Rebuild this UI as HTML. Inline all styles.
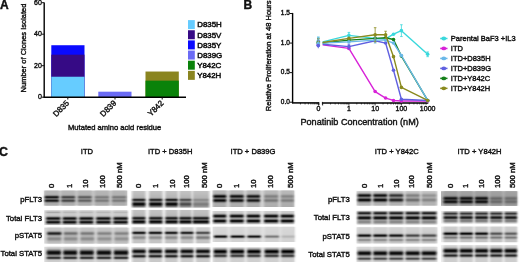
<!DOCTYPE html>
<html><head><meta charset="utf-8"><style>
html,body{margin:0;padding:0;background:#fff;}
body{width:520px;height:262px;overflow:hidden;}
svg{display:block;font-family:"Liberation Sans",sans-serif;will-change:transform;}
text{stroke:#111;stroke-width:0.4px;}
</style></head><body>
<svg width="520" height="262" viewBox="0 0 520 262" fill="#111">
<defs>
<filter id="bl1" x="-20%" y="-20%" width="140%" height="140%"><feGaussianBlur stdDeviation="0.6"/></filter>
<filter id="bl2" x="-20%" y="-20%" width="140%" height="140%"><feGaussianBlur stdDeviation="0.8 0.5"/></filter>
</defs>
<rect width="520" height="262" fill="#fff"/>
<defs><linearGradient id="p1" x1="0" y1="0" x2="0" y2="1"><stop offset="0.000" stop-color="#b6b6b6"/><stop offset="0.167" stop-color="#b4b4b4"/><stop offset="0.200" stop-color="#b4b4b4"/><stop offset="0.233" stop-color="#b2b2b2"/><stop offset="0.267" stop-color="#acacac"/><stop offset="0.300" stop-color="#9e9e9e"/><stop offset="0.333" stop-color="#818181"/><stop offset="0.367" stop-color="#575757"/><stop offset="0.400" stop-color="#2d2d2d"/><stop offset="0.433" stop-color="#161616"/><stop offset="0.467" stop-color="#202020"/><stop offset="0.500" stop-color="#424242"/><stop offset="0.533" stop-color="#636363"/><stop offset="0.567" stop-color="#6a6a6a"/><stop offset="0.600" stop-color="#535353"/><stop offset="0.633" stop-color="#2e2e2e"/><stop offset="0.667" stop-color="#191919"/><stop offset="0.700" stop-color="#232323"/><stop offset="0.733" stop-color="#464646"/><stop offset="0.767" stop-color="#707070"/><stop offset="0.800" stop-color="#919191"/><stop offset="0.833" stop-color="#a3a3a3"/><stop offset="0.867" stop-color="#aaaaaa"/><stop offset="0.900" stop-color="#acacac"/><stop offset="1.000" stop-color="#acacac"/></linearGradient><linearGradient id="p2" x1="0" y1="0" x2="0" y2="1"><stop offset="0.000" stop-color="#b6b6b6"/><stop offset="0.167" stop-color="#b4b4b4"/><stop offset="0.233" stop-color="#b2b2b2"/><stop offset="0.267" stop-color="#aeaeae"/><stop offset="0.300" stop-color="#a4a4a4"/><stop offset="0.333" stop-color="#909090"/><stop offset="0.367" stop-color="#727272"/><stop offset="0.400" stop-color="#545454"/><stop offset="0.433" stop-color="#444444"/><stop offset="0.467" stop-color="#4a4a4a"/><stop offset="0.500" stop-color="#626262"/><stop offset="0.533" stop-color="#797979"/><stop offset="0.567" stop-color="#7e7e7e"/><stop offset="0.600" stop-color="#6e6e6e"/><stop offset="0.633" stop-color="#555555"/><stop offset="0.667" stop-color="#464646"/><stop offset="0.700" stop-color="#4d4d4d"/><stop offset="0.733" stop-color="#666666"/><stop offset="0.767" stop-color="#838383"/><stop offset="0.800" stop-color="#9a9a9a"/><stop offset="0.833" stop-color="#a6a6a6"/><stop offset="0.867" stop-color="#ababab"/><stop offset="0.933" stop-color="#adadad"/><stop offset="1.000" stop-color="#acacac"/></linearGradient><linearGradient id="p3" x1="0" y1="0" x2="0" y2="1"><stop offset="0.000" stop-color="#b6b6b6"/><stop offset="0.167" stop-color="#b4b4b4"/><stop offset="0.233" stop-color="#b3b3b3"/><stop offset="0.267" stop-color="#afafaf"/><stop offset="0.300" stop-color="#a7a7a7"/><stop offset="0.333" stop-color="#989898"/><stop offset="0.367" stop-color="#818181"/><stop offset="0.400" stop-color="#696969"/><stop offset="0.433" stop-color="#5d5d5d"/><stop offset="0.467" stop-color="#626262"/><stop offset="0.500" stop-color="#747474"/><stop offset="0.533" stop-color="#858585"/><stop offset="0.567" stop-color="#898989"/><stop offset="0.600" stop-color="#7e7e7e"/><stop offset="0.633" stop-color="#6b6b6b"/><stop offset="0.667" stop-color="#616161"/><stop offset="0.700" stop-color="#666666"/><stop offset="0.733" stop-color="#787878"/><stop offset="0.767" stop-color="#8e8e8e"/><stop offset="0.800" stop-color="#9f9f9f"/><stop offset="0.833" stop-color="#a8a8a8"/><stop offset="0.867" stop-color="#acacac"/><stop offset="1.000" stop-color="#acacac"/></linearGradient><linearGradient id="p4" x1="0" y1="0" x2="0" y2="1"><stop offset="0.000" stop-color="#b6b6b6"/><stop offset="0.167" stop-color="#b4b4b4"/><stop offset="0.233" stop-color="#b3b3b3"/><stop offset="0.267" stop-color="#b1b1b1"/><stop offset="0.300" stop-color="#acacac"/><stop offset="0.333" stop-color="#a2a2a2"/><stop offset="0.367" stop-color="#939393"/><stop offset="0.400" stop-color="#858585"/><stop offset="0.433" stop-color="#7c7c7c"/><stop offset="0.467" stop-color="#7f7f7f"/><stop offset="0.500" stop-color="#8a8a8a"/><stop offset="0.533" stop-color="#949494"/><stop offset="0.567" stop-color="#969696"/><stop offset="0.600" stop-color="#8e8e8e"/><stop offset="0.633" stop-color="#828282"/><stop offset="0.667" stop-color="#7b7b7b"/><stop offset="0.700" stop-color="#7e7e7e"/><stop offset="0.733" stop-color="#8a8a8a"/><stop offset="0.767" stop-color="#999999"/><stop offset="0.800" stop-color="#a4a4a4"/><stop offset="0.833" stop-color="#aaaaaa"/><stop offset="0.867" stop-color="#acacac"/><stop offset="1.000" stop-color="#acacac"/></linearGradient><linearGradient id="p5" x1="0" y1="0" x2="0" y2="1"><stop offset="0.000" stop-color="#b6b6b6"/><stop offset="0.167" stop-color="#b4b4b4"/><stop offset="0.233" stop-color="#b3b3b3"/><stop offset="0.267" stop-color="#b1b1b1"/><stop offset="0.300" stop-color="#ababab"/><stop offset="0.333" stop-color="#a1a1a1"/><stop offset="0.367" stop-color="#919191"/><stop offset="0.400" stop-color="#828282"/><stop offset="0.433" stop-color="#797979"/><stop offset="0.467" stop-color="#7c7c7c"/><stop offset="0.500" stop-color="#888888"/><stop offset="0.533" stop-color="#939393"/><stop offset="0.567" stop-color="#969696"/><stop offset="0.600" stop-color="#8e8e8e"/><stop offset="0.633" stop-color="#828282"/><stop offset="0.667" stop-color="#7b7b7b"/><stop offset="0.700" stop-color="#7e7e7e"/><stop offset="0.733" stop-color="#8a8a8a"/><stop offset="0.767" stop-color="#999999"/><stop offset="0.800" stop-color="#a4a4a4"/><stop offset="0.833" stop-color="#aaaaaa"/><stop offset="0.867" stop-color="#acacac"/><stop offset="1.000" stop-color="#acacac"/></linearGradient><linearGradient id="p6" x1="0" y1="0" x2="0" y2="1"><stop offset="0.000" stop-color="#d0d0d0"/><stop offset="0.034" stop-color="#cecece"/><stop offset="0.068" stop-color="#c7c7c7"/><stop offset="0.102" stop-color="#b5b5b5"/><stop offset="0.136" stop-color="#a5a5a5"/><stop offset="0.170" stop-color="#acacac"/><stop offset="0.204" stop-color="#bfbfbf"/><stop offset="0.238" stop-color="#cacaca"/><stop offset="0.272" stop-color="#cccccc"/><stop offset="0.306" stop-color="#cbcbcb"/><stop offset="0.340" stop-color="#c8c8c8"/><stop offset="0.374" stop-color="#bfbfbf"/><stop offset="0.408" stop-color="#adadad"/><stop offset="0.442" stop-color="#8c8c8c"/><stop offset="0.476" stop-color="#5e5e5e"/><stop offset="0.510" stop-color="#2e2e2e"/><stop offset="0.544" stop-color="#111111"/><stop offset="0.578" stop-color="#141414"/><stop offset="0.612" stop-color="#343434"/><stop offset="0.646" stop-color="#5c5c5c"/><stop offset="0.680" stop-color="#6f6f6f"/><stop offset="0.714" stop-color="#606060"/><stop offset="0.748" stop-color="#393939"/><stop offset="0.782" stop-color="#151515"/><stop offset="0.816" stop-color="#0b0b0b"/><stop offset="0.850" stop-color="#222222"/><stop offset="0.884" stop-color="#4f4f4f"/><stop offset="0.918" stop-color="#7e7e7e"/><stop offset="0.952" stop-color="#a1a1a1"/><stop offset="0.986" stop-color="#b5b5b5"/></linearGradient><linearGradient id="p7" x1="0" y1="0" x2="0" y2="1"><stop offset="0.000" stop-color="#d0d0d0"/><stop offset="0.034" stop-color="#cfcfcf"/><stop offset="0.068" stop-color="#cacaca"/><stop offset="0.102" stop-color="#bfbfbf"/><stop offset="0.136" stop-color="#b6b6b6"/><stop offset="0.170" stop-color="#bababa"/><stop offset="0.204" stop-color="#c5c5c5"/><stop offset="0.238" stop-color="#cbcbcb"/><stop offset="0.306" stop-color="#cbcbcb"/><stop offset="0.340" stop-color="#c8c8c8"/><stop offset="0.374" stop-color="#bfbfbf"/><stop offset="0.408" stop-color="#adadad"/><stop offset="0.442" stop-color="#8c8c8c"/><stop offset="0.476" stop-color="#5e5e5e"/><stop offset="0.510" stop-color="#2e2e2e"/><stop offset="0.544" stop-color="#111111"/><stop offset="0.578" stop-color="#141414"/><stop offset="0.612" stop-color="#343434"/><stop offset="0.646" stop-color="#5c5c5c"/><stop offset="0.680" stop-color="#6f6f6f"/><stop offset="0.714" stop-color="#606060"/><stop offset="0.748" stop-color="#393939"/><stop offset="0.782" stop-color="#151515"/><stop offset="0.816" stop-color="#0b0b0b"/><stop offset="0.850" stop-color="#222222"/><stop offset="0.884" stop-color="#4f4f4f"/><stop offset="0.918" stop-color="#7e7e7e"/><stop offset="0.952" stop-color="#a1a1a1"/><stop offset="0.986" stop-color="#b5b5b5"/></linearGradient><linearGradient id="p8" x1="0" y1="0" x2="0" y2="1"><stop offset="0.000" stop-color="#d0d0d0"/><stop offset="0.034" stop-color="#cfcfcf"/><stop offset="0.068" stop-color="#cacaca"/><stop offset="0.102" stop-color="#bfbfbf"/><stop offset="0.136" stop-color="#b6b6b6"/><stop offset="0.170" stop-color="#bababa"/><stop offset="0.204" stop-color="#c5c5c5"/><stop offset="0.238" stop-color="#cbcbcb"/><stop offset="0.306" stop-color="#cbcbcb"/><stop offset="0.340" stop-color="#c8c8c8"/><stop offset="0.374" stop-color="#bfbfbf"/><stop offset="0.408" stop-color="#adadad"/><stop offset="0.442" stop-color="#8c8c8c"/><stop offset="0.476" stop-color="#5e5e5e"/><stop offset="0.510" stop-color="#2e2e2e"/><stop offset="0.544" stop-color="#111111"/><stop offset="0.578" stop-color="#141414"/><stop offset="0.612" stop-color="#343434"/><stop offset="0.646" stop-color="#5c5c5c"/><stop offset="0.680" stop-color="#6f6f6f"/><stop offset="0.714" stop-color="#606060"/><stop offset="0.748" stop-color="#393939"/><stop offset="0.782" stop-color="#151515"/><stop offset="0.816" stop-color="#0b0b0b"/><stop offset="0.850" stop-color="#222222"/><stop offset="0.884" stop-color="#4f4f4f"/><stop offset="0.918" stop-color="#7e7e7e"/><stop offset="0.952" stop-color="#a1a1a1"/><stop offset="0.986" stop-color="#b5b5b5"/></linearGradient><linearGradient id="p9" x1="0" y1="0" x2="0" y2="1"><stop offset="0.000" stop-color="#d0d0d0"/><stop offset="0.034" stop-color="#cfcfcf"/><stop offset="0.068" stop-color="#cacaca"/><stop offset="0.102" stop-color="#bfbfbf"/><stop offset="0.136" stop-color="#b6b6b6"/><stop offset="0.170" stop-color="#bababa"/><stop offset="0.204" stop-color="#c5c5c5"/><stop offset="0.238" stop-color="#cbcbcb"/><stop offset="0.306" stop-color="#cbcbcb"/><stop offset="0.340" stop-color="#c8c8c8"/><stop offset="0.374" stop-color="#bfbfbf"/><stop offset="0.408" stop-color="#adadad"/><stop offset="0.442" stop-color="#8c8c8c"/><stop offset="0.476" stop-color="#5e5e5e"/><stop offset="0.510" stop-color="#2e2e2e"/><stop offset="0.544" stop-color="#111111"/><stop offset="0.578" stop-color="#141414"/><stop offset="0.612" stop-color="#343434"/><stop offset="0.646" stop-color="#5c5c5c"/><stop offset="0.680" stop-color="#6f6f6f"/><stop offset="0.714" stop-color="#606060"/><stop offset="0.748" stop-color="#393939"/><stop offset="0.782" stop-color="#151515"/><stop offset="0.816" stop-color="#0b0b0b"/><stop offset="0.850" stop-color="#222222"/><stop offset="0.884" stop-color="#4f4f4f"/><stop offset="0.918" stop-color="#7e7e7e"/><stop offset="0.952" stop-color="#a1a1a1"/><stop offset="0.986" stop-color="#b5b5b5"/></linearGradient><linearGradient id="p10" x1="0" y1="0" x2="0" y2="1"><stop offset="0.000" stop-color="#d0d0d0"/><stop offset="0.034" stop-color="#cfcfcf"/><stop offset="0.068" stop-color="#cacaca"/><stop offset="0.102" stop-color="#bfbfbf"/><stop offset="0.136" stop-color="#b6b6b6"/><stop offset="0.170" stop-color="#bababa"/><stop offset="0.204" stop-color="#c5c5c5"/><stop offset="0.238" stop-color="#cbcbcb"/><stop offset="0.306" stop-color="#cbcbcb"/><stop offset="0.340" stop-color="#c8c8c8"/><stop offset="0.374" stop-color="#bfbfbf"/><stop offset="0.408" stop-color="#adadad"/><stop offset="0.442" stop-color="#8c8c8c"/><stop offset="0.476" stop-color="#5e5e5e"/><stop offset="0.510" stop-color="#2e2e2e"/><stop offset="0.544" stop-color="#111111"/><stop offset="0.578" stop-color="#141414"/><stop offset="0.612" stop-color="#343434"/><stop offset="0.646" stop-color="#5c5c5c"/><stop offset="0.680" stop-color="#6f6f6f"/><stop offset="0.714" stop-color="#606060"/><stop offset="0.748" stop-color="#393939"/><stop offset="0.782" stop-color="#151515"/><stop offset="0.816" stop-color="#0b0b0b"/><stop offset="0.850" stop-color="#222222"/><stop offset="0.884" stop-color="#4f4f4f"/><stop offset="0.918" stop-color="#7e7e7e"/><stop offset="0.952" stop-color="#a1a1a1"/><stop offset="0.986" stop-color="#b5b5b5"/></linearGradient><linearGradient id="p11" x1="0" y1="0" x2="0" y2="1"><stop offset="0.000" stop-color="#c8c8c8"/><stop offset="0.125" stop-color="#c6c6c6"/><stop offset="0.156" stop-color="#c3c3c3"/><stop offset="0.188" stop-color="#bdbdbd"/><stop offset="0.219" stop-color="#aeaeae"/><stop offset="0.250" stop-color="#959595"/><stop offset="0.281" stop-color="#717171"/><stop offset="0.312" stop-color="#4a4a4a"/><stop offset="0.344" stop-color="#2c2c2c"/><stop offset="0.375" stop-color="#242424"/><stop offset="0.406" stop-color="#353535"/><stop offset="0.438" stop-color="#585858"/><stop offset="0.469" stop-color="#7e7e7e"/><stop offset="0.500" stop-color="#9a9a9a"/><stop offset="0.531" stop-color="#a8a8a8"/><stop offset="0.562" stop-color="#aaaaaa"/><stop offset="0.594" stop-color="#a3a3a3"/><stop offset="0.625" stop-color="#989898"/><stop offset="0.656" stop-color="#8e8e8e"/><stop offset="0.688" stop-color="#898989"/><stop offset="0.719" stop-color="#898989"/><stop offset="0.750" stop-color="#909090"/><stop offset="0.781" stop-color="#9a9a9a"/><stop offset="0.812" stop-color="#a6a6a6"/><stop offset="0.844" stop-color="#b0b0b0"/><stop offset="0.875" stop-color="#b7b7b7"/><stop offset="0.906" stop-color="#bcbcbc"/><stop offset="0.938" stop-color="#bebebe"/><stop offset="1.000" stop-color="#c0c0c0"/></linearGradient><linearGradient id="p12" x1="0" y1="0" x2="0" y2="1"><stop offset="0.000" stop-color="#c8c8c8"/><stop offset="0.125" stop-color="#c6c6c6"/><stop offset="0.156" stop-color="#c5c5c5"/><stop offset="0.188" stop-color="#c1c1c1"/><stop offset="0.219" stop-color="#bababa"/><stop offset="0.250" stop-color="#adadad"/><stop offset="0.281" stop-color="#9a9a9a"/><stop offset="0.312" stop-color="#868686"/><stop offset="0.344" stop-color="#777777"/><stop offset="0.375" stop-color="#727272"/><stop offset="0.406" stop-color="#7b7b7b"/><stop offset="0.438" stop-color="#8d8d8d"/><stop offset="0.469" stop-color="#9f9f9f"/><stop offset="0.500" stop-color="#acacac"/><stop offset="0.531" stop-color="#b1b1b1"/><stop offset="0.562" stop-color="#aeaeae"/><stop offset="0.594" stop-color="#a6a6a6"/><stop offset="0.625" stop-color="#9b9b9b"/><stop offset="0.656" stop-color="#929292"/><stop offset="0.688" stop-color="#8d8d8d"/><stop offset="0.719" stop-color="#8d8d8d"/><stop offset="0.750" stop-color="#939393"/><stop offset="0.781" stop-color="#9d9d9d"/><stop offset="0.812" stop-color="#a7a7a7"/><stop offset="0.844" stop-color="#b1b1b1"/><stop offset="0.875" stop-color="#b8b8b8"/><stop offset="0.906" stop-color="#bcbcbc"/><stop offset="0.938" stop-color="#bebebe"/><stop offset="1.000" stop-color="#c0c0c0"/></linearGradient><linearGradient id="p13" x1="0" y1="0" x2="0" y2="1"><stop offset="0.000" stop-color="#c8c8c8"/><stop offset="0.156" stop-color="#c5c5c5"/><stop offset="0.188" stop-color="#c2c2c2"/><stop offset="0.219" stop-color="#bbbbbb"/><stop offset="0.250" stop-color="#afafaf"/><stop offset="0.281" stop-color="#9f9f9f"/><stop offset="0.312" stop-color="#8c8c8c"/><stop offset="0.344" stop-color="#7e7e7e"/><stop offset="0.375" stop-color="#7a7a7a"/><stop offset="0.406" stop-color="#828282"/><stop offset="0.438" stop-color="#929292"/><stop offset="0.469" stop-color="#a2a2a2"/><stop offset="0.500" stop-color="#aeaeae"/><stop offset="0.531" stop-color="#b2b2b2"/><stop offset="0.562" stop-color="#aeaeae"/><stop offset="0.594" stop-color="#a6a6a6"/><stop offset="0.625" stop-color="#9b9b9b"/><stop offset="0.656" stop-color="#929292"/><stop offset="0.688" stop-color="#8d8d8d"/><stop offset="0.719" stop-color="#8d8d8d"/><stop offset="0.750" stop-color="#939393"/><stop offset="0.781" stop-color="#9d9d9d"/><stop offset="0.812" stop-color="#a7a7a7"/><stop offset="0.844" stop-color="#b1b1b1"/><stop offset="0.875" stop-color="#b8b8b8"/><stop offset="0.906" stop-color="#bcbcbc"/><stop offset="0.938" stop-color="#bebebe"/><stop offset="1.000" stop-color="#c0c0c0"/></linearGradient><linearGradient id="p14" x1="0" y1="0" x2="0" y2="1"><stop offset="0.000" stop-color="#c8c8c8"/><stop offset="0.156" stop-color="#c5c5c5"/><stop offset="0.188" stop-color="#c2c2c2"/><stop offset="0.219" stop-color="#bdbdbd"/><stop offset="0.250" stop-color="#b2b2b2"/><stop offset="0.281" stop-color="#a4a4a4"/><stop offset="0.312" stop-color="#949494"/><stop offset="0.344" stop-color="#888888"/><stop offset="0.375" stop-color="#848484"/><stop offset="0.406" stop-color="#8b8b8b"/><stop offset="0.438" stop-color="#989898"/><stop offset="0.469" stop-color="#a7a7a7"/><stop offset="0.500" stop-color="#b1b1b1"/><stop offset="0.531" stop-color="#b4b4b4"/><stop offset="0.562" stop-color="#b1b1b1"/><stop offset="0.594" stop-color="#a9a9a9"/><stop offset="0.625" stop-color="#a0a0a0"/><stop offset="0.656" stop-color="#979797"/><stop offset="0.688" stop-color="#929292"/><stop offset="0.719" stop-color="#939393"/><stop offset="0.750" stop-color="#989898"/><stop offset="0.781" stop-color="#a1a1a1"/><stop offset="0.812" stop-color="#aaaaaa"/><stop offset="0.844" stop-color="#b3b3b3"/><stop offset="0.875" stop-color="#b9b9b9"/><stop offset="0.906" stop-color="#bdbdbd"/><stop offset="0.938" stop-color="#bfbfbf"/><stop offset="1.000" stop-color="#c0c0c0"/></linearGradient><linearGradient id="p15" x1="0" y1="0" x2="0" y2="1"><stop offset="0.000" stop-color="#c8c8c8"/><stop offset="0.156" stop-color="#c5c5c5"/><stop offset="0.188" stop-color="#c2c2c2"/><stop offset="0.219" stop-color="#bdbdbd"/><stop offset="0.250" stop-color="#b2b2b2"/><stop offset="0.281" stop-color="#a4a4a4"/><stop offset="0.312" stop-color="#949494"/><stop offset="0.344" stop-color="#888888"/><stop offset="0.375" stop-color="#848484"/><stop offset="0.406" stop-color="#8b8b8b"/><stop offset="0.438" stop-color="#989898"/><stop offset="0.469" stop-color="#a7a7a7"/><stop offset="0.500" stop-color="#b1b1b1"/><stop offset="0.531" stop-color="#b4b4b4"/><stop offset="0.562" stop-color="#b1b1b1"/><stop offset="0.594" stop-color="#a9a9a9"/><stop offset="0.625" stop-color="#a0a0a0"/><stop offset="0.656" stop-color="#979797"/><stop offset="0.688" stop-color="#929292"/><stop offset="0.719" stop-color="#939393"/><stop offset="0.750" stop-color="#989898"/><stop offset="0.781" stop-color="#a1a1a1"/><stop offset="0.812" stop-color="#aaaaaa"/><stop offset="0.844" stop-color="#b3b3b3"/><stop offset="0.875" stop-color="#b9b9b9"/><stop offset="0.906" stop-color="#bdbdbd"/><stop offset="0.938" stop-color="#bfbfbf"/><stop offset="1.000" stop-color="#c0c0c0"/></linearGradient><linearGradient id="p16" x1="0" y1="0" x2="0" y2="1"><stop offset="0.000" stop-color="#d4d4d4"/><stop offset="0.032" stop-color="#d2d2d2"/><stop offset="0.064" stop-color="#cdcdcd"/><stop offset="0.096" stop-color="#c6c6c6"/><stop offset="0.127" stop-color="#bababa"/><stop offset="0.159" stop-color="#a9a9a9"/><stop offset="0.191" stop-color="#919191"/><stop offset="0.223" stop-color="#747474"/><stop offset="0.255" stop-color="#545454"/><stop offset="0.287" stop-color="#343434"/><stop offset="0.318" stop-color="#1a1a1a"/><stop offset="0.350" stop-color="#090909"/><stop offset="0.382" stop-color="#040404"/><stop offset="0.414" stop-color="#0e0e0e"/><stop offset="0.446" stop-color="#232323"/><stop offset="0.478" stop-color="#404040"/><stop offset="0.510" stop-color="#606060"/><stop offset="0.541" stop-color="#7c7c7c"/><stop offset="0.573" stop-color="#8e8e8e"/><stop offset="0.605" stop-color="#8a8a8a"/><stop offset="0.637" stop-color="#6d6d6d"/><stop offset="0.669" stop-color="#434343"/><stop offset="0.701" stop-color="#292929"/><stop offset="0.732" stop-color="#373737"/><stop offset="0.764" stop-color="#646464"/><stop offset="0.796" stop-color="#959595"/><stop offset="0.828" stop-color="#b7b7b7"/><stop offset="0.860" stop-color="#c8c8c8"/><stop offset="0.892" stop-color="#cdcdcd"/><stop offset="0.987" stop-color="#cecece"/></linearGradient><linearGradient id="p17" x1="0" y1="0" x2="0" y2="1"><stop offset="0.000" stop-color="#d4d4d4"/><stop offset="0.032" stop-color="#d2d2d2"/><stop offset="0.064" stop-color="#cdcdcd"/><stop offset="0.096" stop-color="#c6c6c6"/><stop offset="0.127" stop-color="#bababa"/><stop offset="0.159" stop-color="#a9a9a9"/><stop offset="0.191" stop-color="#919191"/><stop offset="0.223" stop-color="#747474"/><stop offset="0.255" stop-color="#545454"/><stop offset="0.287" stop-color="#343434"/><stop offset="0.318" stop-color="#1a1a1a"/><stop offset="0.350" stop-color="#090909"/><stop offset="0.382" stop-color="#040404"/><stop offset="0.414" stop-color="#0e0e0e"/><stop offset="0.446" stop-color="#232323"/><stop offset="0.478" stop-color="#404040"/><stop offset="0.510" stop-color="#606060"/><stop offset="0.541" stop-color="#7c7c7c"/><stop offset="0.573" stop-color="#8e8e8e"/><stop offset="0.605" stop-color="#8a8a8a"/><stop offset="0.637" stop-color="#6d6d6d"/><stop offset="0.669" stop-color="#434343"/><stop offset="0.701" stop-color="#292929"/><stop offset="0.732" stop-color="#373737"/><stop offset="0.764" stop-color="#646464"/><stop offset="0.796" stop-color="#959595"/><stop offset="0.828" stop-color="#b7b7b7"/><stop offset="0.860" stop-color="#c8c8c8"/><stop offset="0.892" stop-color="#cdcdcd"/><stop offset="0.987" stop-color="#cecece"/></linearGradient><linearGradient id="p18" x1="0" y1="0" x2="0" y2="1"><stop offset="0.000" stop-color="#d4d4d4"/><stop offset="0.032" stop-color="#d2d2d2"/><stop offset="0.064" stop-color="#cdcdcd"/><stop offset="0.096" stop-color="#c6c6c6"/><stop offset="0.127" stop-color="#bababa"/><stop offset="0.159" stop-color="#a9a9a9"/><stop offset="0.191" stop-color="#919191"/><stop offset="0.223" stop-color="#747474"/><stop offset="0.255" stop-color="#545454"/><stop offset="0.287" stop-color="#343434"/><stop offset="0.318" stop-color="#1a1a1a"/><stop offset="0.350" stop-color="#090909"/><stop offset="0.382" stop-color="#040404"/><stop offset="0.414" stop-color="#0e0e0e"/><stop offset="0.446" stop-color="#232323"/><stop offset="0.478" stop-color="#404040"/><stop offset="0.510" stop-color="#606060"/><stop offset="0.541" stop-color="#7c7c7c"/><stop offset="0.573" stop-color="#8e8e8e"/><stop offset="0.605" stop-color="#8a8a8a"/><stop offset="0.637" stop-color="#6d6d6d"/><stop offset="0.669" stop-color="#434343"/><stop offset="0.701" stop-color="#292929"/><stop offset="0.732" stop-color="#373737"/><stop offset="0.764" stop-color="#646464"/><stop offset="0.796" stop-color="#959595"/><stop offset="0.828" stop-color="#b7b7b7"/><stop offset="0.860" stop-color="#c8c8c8"/><stop offset="0.892" stop-color="#cdcdcd"/><stop offset="0.987" stop-color="#cecece"/></linearGradient><linearGradient id="p19" x1="0" y1="0" x2="0" y2="1"><stop offset="0.000" stop-color="#d4d4d4"/><stop offset="0.032" stop-color="#d2d2d2"/><stop offset="0.064" stop-color="#cdcdcd"/><stop offset="0.096" stop-color="#c6c6c6"/><stop offset="0.127" stop-color="#bababa"/><stop offset="0.159" stop-color="#a9a9a9"/><stop offset="0.191" stop-color="#919191"/><stop offset="0.223" stop-color="#747474"/><stop offset="0.255" stop-color="#545454"/><stop offset="0.287" stop-color="#343434"/><stop offset="0.318" stop-color="#1a1a1a"/><stop offset="0.350" stop-color="#090909"/><stop offset="0.382" stop-color="#040404"/><stop offset="0.414" stop-color="#0e0e0e"/><stop offset="0.446" stop-color="#232323"/><stop offset="0.478" stop-color="#404040"/><stop offset="0.510" stop-color="#606060"/><stop offset="0.541" stop-color="#7c7c7c"/><stop offset="0.573" stop-color="#8e8e8e"/><stop offset="0.605" stop-color="#8a8a8a"/><stop offset="0.637" stop-color="#6d6d6d"/><stop offset="0.669" stop-color="#434343"/><stop offset="0.701" stop-color="#292929"/><stop offset="0.732" stop-color="#373737"/><stop offset="0.764" stop-color="#646464"/><stop offset="0.796" stop-color="#959595"/><stop offset="0.828" stop-color="#b7b7b7"/><stop offset="0.860" stop-color="#c8c8c8"/><stop offset="0.892" stop-color="#cdcdcd"/><stop offset="0.987" stop-color="#cecece"/></linearGradient><linearGradient id="p20" x1="0" y1="0" x2="0" y2="1"><stop offset="0.000" stop-color="#d4d4d4"/><stop offset="0.032" stop-color="#d2d2d2"/><stop offset="0.064" stop-color="#cdcdcd"/><stop offset="0.096" stop-color="#c6c6c6"/><stop offset="0.127" stop-color="#bababa"/><stop offset="0.159" stop-color="#a9a9a9"/><stop offset="0.191" stop-color="#919191"/><stop offset="0.223" stop-color="#747474"/><stop offset="0.255" stop-color="#545454"/><stop offset="0.287" stop-color="#343434"/><stop offset="0.318" stop-color="#1a1a1a"/><stop offset="0.350" stop-color="#090909"/><stop offset="0.382" stop-color="#040404"/><stop offset="0.414" stop-color="#0e0e0e"/><stop offset="0.446" stop-color="#232323"/><stop offset="0.478" stop-color="#404040"/><stop offset="0.510" stop-color="#606060"/><stop offset="0.541" stop-color="#7c7c7c"/><stop offset="0.573" stop-color="#8e8e8e"/><stop offset="0.605" stop-color="#8a8a8a"/><stop offset="0.637" stop-color="#6d6d6d"/><stop offset="0.669" stop-color="#434343"/><stop offset="0.701" stop-color="#292929"/><stop offset="0.732" stop-color="#373737"/><stop offset="0.764" stop-color="#646464"/><stop offset="0.796" stop-color="#959595"/><stop offset="0.828" stop-color="#b7b7b7"/><stop offset="0.860" stop-color="#c8c8c8"/><stop offset="0.892" stop-color="#cdcdcd"/><stop offset="0.987" stop-color="#cecece"/></linearGradient><linearGradient id="p21" x1="0" y1="0" x2="0" y2="1"><stop offset="0.000" stop-color="#c3c3c3"/><stop offset="0.060" stop-color="#c1c1c1"/><stop offset="0.120" stop-color="#bfbfbf"/><stop offset="0.181" stop-color="#bdbdbd"/><stop offset="0.241" stop-color="#bbbbbb"/><stop offset="0.301" stop-color="#b8b8b8"/><stop offset="0.331" stop-color="#b7b7b7"/><stop offset="0.361" stop-color="#b5b5b5"/><stop offset="0.392" stop-color="#afafaf"/><stop offset="0.422" stop-color="#a0a0a0"/><stop offset="0.452" stop-color="#818181"/><stop offset="0.482" stop-color="#565656"/><stop offset="0.512" stop-color="#2f2f2f"/><stop offset="0.542" stop-color="#232323"/><stop offset="0.572" stop-color="#393939"/><stop offset="0.602" stop-color="#5c5c5c"/><stop offset="0.633" stop-color="#717171"/><stop offset="0.663" stop-color="#6c6c6c"/><stop offset="0.693" stop-color="#545454"/><stop offset="0.723" stop-color="#353535"/><stop offset="0.753" stop-color="#191919"/><stop offset="0.783" stop-color="#0a0a0a"/><stop offset="0.813" stop-color="#0b0b0b"/><stop offset="0.843" stop-color="#1d1d1d"/><stop offset="0.873" stop-color="#3a3a3a"/><stop offset="0.904" stop-color="#595959"/><stop offset="0.934" stop-color="#737373"/><stop offset="0.964" stop-color="#878787"/><stop offset="0.994" stop-color="#939393"/></linearGradient><linearGradient id="p22" x1="0" y1="0" x2="0" y2="1"><stop offset="0.000" stop-color="#c3c3c3"/><stop offset="0.060" stop-color="#c1c1c1"/><stop offset="0.120" stop-color="#bfbfbf"/><stop offset="0.181" stop-color="#bdbdbd"/><stop offset="0.241" stop-color="#bbbbbb"/><stop offset="0.301" stop-color="#b8b8b8"/><stop offset="0.331" stop-color="#b7b7b7"/><stop offset="0.361" stop-color="#b5b5b5"/><stop offset="0.392" stop-color="#afafaf"/><stop offset="0.422" stop-color="#a0a0a0"/><stop offset="0.452" stop-color="#818181"/><stop offset="0.482" stop-color="#565656"/><stop offset="0.512" stop-color="#2f2f2f"/><stop offset="0.542" stop-color="#232323"/><stop offset="0.572" stop-color="#393939"/><stop offset="0.602" stop-color="#5c5c5c"/><stop offset="0.633" stop-color="#717171"/><stop offset="0.663" stop-color="#6c6c6c"/><stop offset="0.693" stop-color="#545454"/><stop offset="0.723" stop-color="#353535"/><stop offset="0.753" stop-color="#191919"/><stop offset="0.783" stop-color="#0a0a0a"/><stop offset="0.813" stop-color="#0b0b0b"/><stop offset="0.843" stop-color="#1d1d1d"/><stop offset="0.873" stop-color="#3a3a3a"/><stop offset="0.904" stop-color="#595959"/><stop offset="0.934" stop-color="#737373"/><stop offset="0.964" stop-color="#878787"/><stop offset="0.994" stop-color="#939393"/></linearGradient><linearGradient id="p23" x1="0" y1="0" x2="0" y2="1"><stop offset="0.000" stop-color="#c3c3c3"/><stop offset="0.060" stop-color="#c1c1c1"/><stop offset="0.120" stop-color="#bfbfbf"/><stop offset="0.181" stop-color="#bdbdbd"/><stop offset="0.241" stop-color="#bbbbbb"/><stop offset="0.301" stop-color="#b8b8b8"/><stop offset="0.331" stop-color="#b7b7b7"/><stop offset="0.361" stop-color="#b5b5b5"/><stop offset="0.392" stop-color="#aeaeae"/><stop offset="0.422" stop-color="#9e9e9e"/><stop offset="0.452" stop-color="#7e7e7e"/><stop offset="0.482" stop-color="#505050"/><stop offset="0.512" stop-color="#272727"/><stop offset="0.542" stop-color="#1b1b1b"/><stop offset="0.572" stop-color="#323232"/><stop offset="0.602" stop-color="#585858"/><stop offset="0.633" stop-color="#6f6f6f"/><stop offset="0.663" stop-color="#6c6c6c"/><stop offset="0.693" stop-color="#545454"/><stop offset="0.723" stop-color="#353535"/><stop offset="0.753" stop-color="#191919"/><stop offset="0.783" stop-color="#0a0a0a"/><stop offset="0.813" stop-color="#0b0b0b"/><stop offset="0.843" stop-color="#1d1d1d"/><stop offset="0.873" stop-color="#3a3a3a"/><stop offset="0.904" stop-color="#595959"/><stop offset="0.934" stop-color="#737373"/><stop offset="0.964" stop-color="#878787"/><stop offset="0.994" stop-color="#939393"/></linearGradient><linearGradient id="p24" x1="0" y1="0" x2="0" y2="1"><stop offset="0.000" stop-color="#c3c3c3"/><stop offset="0.060" stop-color="#c1c1c1"/><stop offset="0.120" stop-color="#bfbfbf"/><stop offset="0.181" stop-color="#bdbdbd"/><stop offset="0.241" stop-color="#bbbbbb"/><stop offset="0.301" stop-color="#b8b8b8"/><stop offset="0.331" stop-color="#b7b7b7"/><stop offset="0.361" stop-color="#b5b5b5"/><stop offset="0.392" stop-color="#b1b1b1"/><stop offset="0.422" stop-color="#a6a6a6"/><stop offset="0.452" stop-color="#919191"/><stop offset="0.482" stop-color="#737373"/><stop offset="0.512" stop-color="#575757"/><stop offset="0.542" stop-color="#4f4f4f"/><stop offset="0.572" stop-color="#5d5d5d"/><stop offset="0.602" stop-color="#757575"/><stop offset="0.633" stop-color="#858585"/><stop offset="0.663" stop-color="#858585"/><stop offset="0.693" stop-color="#787878"/><stop offset="0.723" stop-color="#666666"/><stop offset="0.753" stop-color="#565656"/><stop offset="0.783" stop-color="#4c4c4c"/><stop offset="0.813" stop-color="#4d4d4d"/><stop offset="0.843" stop-color="#575757"/><stop offset="0.873" stop-color="#676767"/><stop offset="0.904" stop-color="#787878"/><stop offset="0.934" stop-color="#878787"/><stop offset="0.964" stop-color="#929292"/><stop offset="0.994" stop-color="#999999"/></linearGradient><linearGradient id="p25" x1="0" y1="0" x2="0" y2="1"><stop offset="0.000" stop-color="#c3c3c3"/><stop offset="0.060" stop-color="#c1c1c1"/><stop offset="0.120" stop-color="#bfbfbf"/><stop offset="0.181" stop-color="#bdbdbd"/><stop offset="0.241" stop-color="#bbbbbb"/><stop offset="0.301" stop-color="#b8b8b8"/><stop offset="0.361" stop-color="#b6b6b6"/><stop offset="0.392" stop-color="#b4b4b4"/><stop offset="0.422" stop-color="#afafaf"/><stop offset="0.452" stop-color="#a7a7a7"/><stop offset="0.482" stop-color="#9b9b9b"/><stop offset="0.512" stop-color="#909090"/><stop offset="0.542" stop-color="#8c8c8c"/><stop offset="0.572" stop-color="#909090"/><stop offset="0.602" stop-color="#989898"/><stop offset="0.633" stop-color="#9c9c9c"/><stop offset="0.663" stop-color="#9a9a9a"/><stop offset="0.693" stop-color="#949494"/><stop offset="0.723" stop-color="#8b8b8b"/><stop offset="0.753" stop-color="#838383"/><stop offset="0.783" stop-color="#7e7e7e"/><stop offset="0.813" stop-color="#7e7e7e"/><stop offset="0.843" stop-color="#828282"/><stop offset="0.873" stop-color="#888888"/><stop offset="0.904" stop-color="#909090"/><stop offset="0.934" stop-color="#969696"/><stop offset="0.964" stop-color="#9a9a9a"/><stop offset="0.994" stop-color="#9d9d9d"/></linearGradient><linearGradient id="p26" x1="0" y1="0" x2="0" y2="1"><stop offset="0.000" stop-color="#c3c3c3"/><stop offset="0.069" stop-color="#c1c1c1"/><stop offset="0.139" stop-color="#c0c0c0"/><stop offset="0.208" stop-color="#bebebe"/><stop offset="0.278" stop-color="#bcbcbc"/><stop offset="0.312" stop-color="#bbbbbb"/><stop offset="0.347" stop-color="#b9b9b9"/><stop offset="0.382" stop-color="#b4b4b4"/><stop offset="0.417" stop-color="#a7a7a7"/><stop offset="0.451" stop-color="#8d8d8d"/><stop offset="0.486" stop-color="#666666"/><stop offset="0.521" stop-color="#3a3a3a"/><stop offset="0.556" stop-color="#1e1e1e"/><stop offset="0.590" stop-color="#202020"/><stop offset="0.625" stop-color="#3d3d3d"/><stop offset="0.660" stop-color="#5a5a5a"/><stop offset="0.694" stop-color="#606060"/><stop offset="0.729" stop-color="#4b4b4b"/><stop offset="0.764" stop-color="#282828"/><stop offset="0.799" stop-color="#0e0e0e"/><stop offset="0.833" stop-color="#0b0b0b"/><stop offset="0.868" stop-color="#212121"/><stop offset="0.903" stop-color="#474747"/><stop offset="0.937" stop-color="#6d6d6d"/><stop offset="0.972" stop-color="#8a8a8a"/><stop offset="1.007" stop-color="#9b9b9b"/></linearGradient><linearGradient id="p27" x1="0" y1="0" x2="0" y2="1"><stop offset="0.000" stop-color="#c3c3c3"/><stop offset="0.069" stop-color="#c1c1c1"/><stop offset="0.139" stop-color="#c0c0c0"/><stop offset="0.208" stop-color="#bebebe"/><stop offset="0.278" stop-color="#bcbcbc"/><stop offset="0.312" stop-color="#bbbbbb"/><stop offset="0.347" stop-color="#b9b9b9"/><stop offset="0.382" stop-color="#b4b4b4"/><stop offset="0.417" stop-color="#a7a7a7"/><stop offset="0.451" stop-color="#8d8d8d"/><stop offset="0.486" stop-color="#666666"/><stop offset="0.521" stop-color="#3a3a3a"/><stop offset="0.556" stop-color="#1e1e1e"/><stop offset="0.590" stop-color="#202020"/><stop offset="0.625" stop-color="#3d3d3d"/><stop offset="0.660" stop-color="#5a5a5a"/><stop offset="0.694" stop-color="#606060"/><stop offset="0.729" stop-color="#4b4b4b"/><stop offset="0.764" stop-color="#282828"/><stop offset="0.799" stop-color="#0e0e0e"/><stop offset="0.833" stop-color="#0b0b0b"/><stop offset="0.868" stop-color="#212121"/><stop offset="0.903" stop-color="#474747"/><stop offset="0.937" stop-color="#6d6d6d"/><stop offset="0.972" stop-color="#8a8a8a"/><stop offset="1.007" stop-color="#9b9b9b"/></linearGradient><linearGradient id="p28" x1="0" y1="0" x2="0" y2="1"><stop offset="0.000" stop-color="#c3c3c3"/><stop offset="0.069" stop-color="#c1c1c1"/><stop offset="0.139" stop-color="#c0c0c0"/><stop offset="0.208" stop-color="#bebebe"/><stop offset="0.278" stop-color="#bcbcbc"/><stop offset="0.312" stop-color="#bbbbbb"/><stop offset="0.347" stop-color="#b9b9b9"/><stop offset="0.382" stop-color="#b4b4b4"/><stop offset="0.417" stop-color="#a7a7a7"/><stop offset="0.451" stop-color="#8d8d8d"/><stop offset="0.486" stop-color="#666666"/><stop offset="0.521" stop-color="#3a3a3a"/><stop offset="0.556" stop-color="#1e1e1e"/><stop offset="0.590" stop-color="#202020"/><stop offset="0.625" stop-color="#3d3d3d"/><stop offset="0.660" stop-color="#5a5a5a"/><stop offset="0.694" stop-color="#606060"/><stop offset="0.729" stop-color="#4b4b4b"/><stop offset="0.764" stop-color="#282828"/><stop offset="0.799" stop-color="#0e0e0e"/><stop offset="0.833" stop-color="#0b0b0b"/><stop offset="0.868" stop-color="#212121"/><stop offset="0.903" stop-color="#474747"/><stop offset="0.937" stop-color="#6d6d6d"/><stop offset="0.972" stop-color="#8a8a8a"/><stop offset="1.007" stop-color="#9b9b9b"/></linearGradient><linearGradient id="p29" x1="0" y1="0" x2="0" y2="1"><stop offset="0.000" stop-color="#c3c3c3"/><stop offset="0.069" stop-color="#c1c1c1"/><stop offset="0.139" stop-color="#c0c0c0"/><stop offset="0.208" stop-color="#bebebe"/><stop offset="0.278" stop-color="#bcbcbc"/><stop offset="0.312" stop-color="#bbbbbb"/><stop offset="0.347" stop-color="#b9b9b9"/><stop offset="0.382" stop-color="#b4b4b4"/><stop offset="0.417" stop-color="#a7a7a7"/><stop offset="0.451" stop-color="#8d8d8d"/><stop offset="0.486" stop-color="#666666"/><stop offset="0.521" stop-color="#3a3a3a"/><stop offset="0.556" stop-color="#1e1e1e"/><stop offset="0.590" stop-color="#202020"/><stop offset="0.625" stop-color="#3d3d3d"/><stop offset="0.660" stop-color="#5a5a5a"/><stop offset="0.694" stop-color="#606060"/><stop offset="0.729" stop-color="#4b4b4b"/><stop offset="0.764" stop-color="#282828"/><stop offset="0.799" stop-color="#0e0e0e"/><stop offset="0.833" stop-color="#0b0b0b"/><stop offset="0.868" stop-color="#212121"/><stop offset="0.903" stop-color="#474747"/><stop offset="0.937" stop-color="#6d6d6d"/><stop offset="0.972" stop-color="#8a8a8a"/><stop offset="1.007" stop-color="#9b9b9b"/></linearGradient><linearGradient id="p30" x1="0" y1="0" x2="0" y2="1"><stop offset="0.000" stop-color="#c3c3c3"/><stop offset="0.069" stop-color="#c1c1c1"/><stop offset="0.139" stop-color="#c0c0c0"/><stop offset="0.208" stop-color="#bebebe"/><stop offset="0.278" stop-color="#bcbcbc"/><stop offset="0.312" stop-color="#bbbbbb"/><stop offset="0.347" stop-color="#b9b9b9"/><stop offset="0.382" stop-color="#b4b4b4"/><stop offset="0.417" stop-color="#a7a7a7"/><stop offset="0.451" stop-color="#8d8d8d"/><stop offset="0.486" stop-color="#666666"/><stop offset="0.521" stop-color="#3a3a3a"/><stop offset="0.556" stop-color="#1e1e1e"/><stop offset="0.590" stop-color="#202020"/><stop offset="0.625" stop-color="#3d3d3d"/><stop offset="0.660" stop-color="#5a5a5a"/><stop offset="0.694" stop-color="#606060"/><stop offset="0.729" stop-color="#4b4b4b"/><stop offset="0.764" stop-color="#282828"/><stop offset="0.799" stop-color="#0e0e0e"/><stop offset="0.833" stop-color="#0b0b0b"/><stop offset="0.868" stop-color="#212121"/><stop offset="0.903" stop-color="#474747"/><stop offset="0.937" stop-color="#6d6d6d"/><stop offset="0.972" stop-color="#8a8a8a"/><stop offset="1.007" stop-color="#9b9b9b"/></linearGradient><linearGradient id="p31" x1="0" y1="0" x2="0" y2="1"><stop offset="0.000" stop-color="#d0d0d0"/><stop offset="0.125" stop-color="#cecece"/><stop offset="0.156" stop-color="#cdcdcd"/><stop offset="0.188" stop-color="#c9c9c9"/><stop offset="0.219" stop-color="#bcbcbc"/><stop offset="0.250" stop-color="#9d9d9d"/><stop offset="0.281" stop-color="#6a6a6a"/><stop offset="0.312" stop-color="#313131"/><stop offset="0.344" stop-color="#111111"/><stop offset="0.375" stop-color="#202020"/><stop offset="0.406" stop-color="#525252"/><stop offset="0.438" stop-color="#898989"/><stop offset="0.469" stop-color="#acacac"/><stop offset="0.500" stop-color="#b8b8b8"/><stop offset="0.531" stop-color="#b3b3b3"/><stop offset="0.562" stop-color="#a6a6a6"/><stop offset="0.594" stop-color="#989898"/><stop offset="0.625" stop-color="#8e8e8e"/><stop offset="0.656" stop-color="#8d8d8d"/><stop offset="0.688" stop-color="#959595"/><stop offset="0.719" stop-color="#a2a2a2"/><stop offset="0.750" stop-color="#b0b0b0"/><stop offset="0.781" stop-color="#bbbbbb"/><stop offset="0.812" stop-color="#c1c1c1"/><stop offset="0.844" stop-color="#c4c4c4"/><stop offset="1.000" stop-color="#c4c4c4"/></linearGradient><linearGradient id="p32" x1="0" y1="0" x2="0" y2="1"><stop offset="0.000" stop-color="#d0d0d0"/><stop offset="0.125" stop-color="#cecece"/><stop offset="0.156" stop-color="#cdcdcd"/><stop offset="0.188" stop-color="#c9c9c9"/><stop offset="0.219" stop-color="#bcbcbc"/><stop offset="0.250" stop-color="#9d9d9d"/><stop offset="0.281" stop-color="#6a6a6a"/><stop offset="0.312" stop-color="#313131"/><stop offset="0.344" stop-color="#111111"/><stop offset="0.375" stop-color="#202020"/><stop offset="0.406" stop-color="#525252"/><stop offset="0.438" stop-color="#898989"/><stop offset="0.469" stop-color="#acacac"/><stop offset="0.500" stop-color="#b8b8b8"/><stop offset="0.531" stop-color="#b3b3b3"/><stop offset="0.562" stop-color="#a6a6a6"/><stop offset="0.594" stop-color="#989898"/><stop offset="0.625" stop-color="#8e8e8e"/><stop offset="0.656" stop-color="#8d8d8d"/><stop offset="0.688" stop-color="#959595"/><stop offset="0.719" stop-color="#a2a2a2"/><stop offset="0.750" stop-color="#b0b0b0"/><stop offset="0.781" stop-color="#bbbbbb"/><stop offset="0.812" stop-color="#c1c1c1"/><stop offset="0.844" stop-color="#c4c4c4"/><stop offset="1.000" stop-color="#c4c4c4"/></linearGradient><linearGradient id="p33" x1="0" y1="0" x2="0" y2="1"><stop offset="0.000" stop-color="#d0d0d0"/><stop offset="0.125" stop-color="#cecece"/><stop offset="0.156" stop-color="#cdcdcd"/><stop offset="0.188" stop-color="#c9c9c9"/><stop offset="0.219" stop-color="#bcbcbc"/><stop offset="0.250" stop-color="#9e9e9e"/><stop offset="0.281" stop-color="#6d6d6d"/><stop offset="0.312" stop-color="#353535"/><stop offset="0.344" stop-color="#151515"/><stop offset="0.375" stop-color="#232323"/><stop offset="0.406" stop-color="#555555"/><stop offset="0.438" stop-color="#8a8a8a"/><stop offset="0.469" stop-color="#acacac"/><stop offset="0.500" stop-color="#b8b8b8"/><stop offset="0.531" stop-color="#b3b3b3"/><stop offset="0.562" stop-color="#a6a6a6"/><stop offset="0.594" stop-color="#989898"/><stop offset="0.625" stop-color="#8e8e8e"/><stop offset="0.656" stop-color="#8d8d8d"/><stop offset="0.688" stop-color="#959595"/><stop offset="0.719" stop-color="#a2a2a2"/><stop offset="0.750" stop-color="#b0b0b0"/><stop offset="0.781" stop-color="#bbbbbb"/><stop offset="0.812" stop-color="#c1c1c1"/><stop offset="0.844" stop-color="#c4c4c4"/><stop offset="1.000" stop-color="#c4c4c4"/></linearGradient><linearGradient id="p34" x1="0" y1="0" x2="0" y2="1"><stop offset="0.000" stop-color="#d0d0d0"/><stop offset="0.125" stop-color="#cecece"/><stop offset="0.156" stop-color="#cdcdcd"/><stop offset="0.188" stop-color="#c9c9c9"/><stop offset="0.219" stop-color="#bcbcbc"/><stop offset="0.250" stop-color="#9f9f9f"/><stop offset="0.281" stop-color="#6f6f6f"/><stop offset="0.312" stop-color="#383838"/><stop offset="0.344" stop-color="#191919"/><stop offset="0.375" stop-color="#272727"/><stop offset="0.406" stop-color="#575757"/><stop offset="0.438" stop-color="#8b8b8b"/><stop offset="0.469" stop-color="#adadad"/><stop offset="0.500" stop-color="#b8b8b8"/><stop offset="0.531" stop-color="#b3b3b3"/><stop offset="0.562" stop-color="#a6a6a6"/><stop offset="0.594" stop-color="#989898"/><stop offset="0.625" stop-color="#8e8e8e"/><stop offset="0.656" stop-color="#8d8d8d"/><stop offset="0.688" stop-color="#959595"/><stop offset="0.719" stop-color="#a2a2a2"/><stop offset="0.750" stop-color="#b0b0b0"/><stop offset="0.781" stop-color="#bbbbbb"/><stop offset="0.812" stop-color="#c1c1c1"/><stop offset="0.844" stop-color="#c4c4c4"/><stop offset="1.000" stop-color="#c4c4c4"/></linearGradient><linearGradient id="p35" x1="0" y1="0" x2="0" y2="1"><stop offset="0.000" stop-color="#d0d0d0"/><stop offset="0.125" stop-color="#cecece"/><stop offset="0.156" stop-color="#cdcdcd"/><stop offset="0.188" stop-color="#cacaca"/><stop offset="0.219" stop-color="#c1c1c1"/><stop offset="0.250" stop-color="#ababab"/><stop offset="0.281" stop-color="#878787"/><stop offset="0.312" stop-color="#5f5f5f"/><stop offset="0.344" stop-color="#484848"/><stop offset="0.375" stop-color="#525252"/><stop offset="0.406" stop-color="#757575"/><stop offset="0.438" stop-color="#9b9b9b"/><stop offset="0.469" stop-color="#b2b2b2"/><stop offset="0.500" stop-color="#b7b7b7"/><stop offset="0.531" stop-color="#aeaeae"/><stop offset="0.562" stop-color="#9d9d9d"/><stop offset="0.594" stop-color="#8b8b8b"/><stop offset="0.625" stop-color="#7f7f7f"/><stop offset="0.656" stop-color="#7d7d7d"/><stop offset="0.688" stop-color="#878787"/><stop offset="0.719" stop-color="#989898"/><stop offset="0.750" stop-color="#aaaaaa"/><stop offset="0.781" stop-color="#b7b7b7"/><stop offset="0.812" stop-color="#c0c0c0"/><stop offset="0.844" stop-color="#c3c3c3"/><stop offset="0.906" stop-color="#c5c5c5"/><stop offset="1.000" stop-color="#c4c4c4"/></linearGradient><linearGradient id="p36" x1="0" y1="0" x2="0" y2="1"><stop offset="0.000" stop-color="#cecece"/><stop offset="0.033" stop-color="#c8c8c8"/><stop offset="0.065" stop-color="#bdbdbd"/><stop offset="0.098" stop-color="#aaaaaa"/><stop offset="0.131" stop-color="#8d8d8d"/><stop offset="0.163" stop-color="#676767"/><stop offset="0.196" stop-color="#3e3e3e"/><stop offset="0.229" stop-color="#1b1b1b"/><stop offset="0.261" stop-color="#080808"/><stop offset="0.294" stop-color="#0a0a0a"/><stop offset="0.327" stop-color="#212121"/><stop offset="0.359" stop-color="#454545"/><stop offset="0.392" stop-color="#6c6c6c"/><stop offset="0.425" stop-color="#8a8a8a"/><stop offset="0.458" stop-color="#939393"/><stop offset="0.490" stop-color="#828282"/><stop offset="0.523" stop-color="#5a5a5a"/><stop offset="0.556" stop-color="#303030"/><stop offset="0.588" stop-color="#1e1e1e"/><stop offset="0.621" stop-color="#313131"/><stop offset="0.654" stop-color="#5d5d5d"/><stop offset="0.686" stop-color="#8d8d8d"/><stop offset="0.719" stop-color="#aeaeae"/><stop offset="0.752" stop-color="#c0c0c0"/><stop offset="0.784" stop-color="#c7c7c7"/><stop offset="0.817" stop-color="#c9c9c9"/><stop offset="1.013" stop-color="#c8c8c8"/></linearGradient><linearGradient id="p37" x1="0" y1="0" x2="0" y2="1"><stop offset="0.000" stop-color="#cecece"/><stop offset="0.033" stop-color="#c8c8c8"/><stop offset="0.065" stop-color="#bdbdbd"/><stop offset="0.098" stop-color="#aaaaaa"/><stop offset="0.131" stop-color="#8d8d8d"/><stop offset="0.163" stop-color="#676767"/><stop offset="0.196" stop-color="#3e3e3e"/><stop offset="0.229" stop-color="#1b1b1b"/><stop offset="0.261" stop-color="#080808"/><stop offset="0.294" stop-color="#0a0a0a"/><stop offset="0.327" stop-color="#212121"/><stop offset="0.359" stop-color="#454545"/><stop offset="0.392" stop-color="#6c6c6c"/><stop offset="0.425" stop-color="#8a8a8a"/><stop offset="0.458" stop-color="#939393"/><stop offset="0.490" stop-color="#828282"/><stop offset="0.523" stop-color="#5a5a5a"/><stop offset="0.556" stop-color="#303030"/><stop offset="0.588" stop-color="#1e1e1e"/><stop offset="0.621" stop-color="#313131"/><stop offset="0.654" stop-color="#5d5d5d"/><stop offset="0.686" stop-color="#8d8d8d"/><stop offset="0.719" stop-color="#aeaeae"/><stop offset="0.752" stop-color="#c0c0c0"/><stop offset="0.784" stop-color="#c7c7c7"/><stop offset="0.817" stop-color="#c9c9c9"/><stop offset="1.013" stop-color="#c8c8c8"/></linearGradient><linearGradient id="p38" x1="0" y1="0" x2="0" y2="1"><stop offset="0.000" stop-color="#cecece"/><stop offset="0.033" stop-color="#c8c8c8"/><stop offset="0.065" stop-color="#bdbdbd"/><stop offset="0.098" stop-color="#aaaaaa"/><stop offset="0.131" stop-color="#8d8d8d"/><stop offset="0.163" stop-color="#676767"/><stop offset="0.196" stop-color="#3e3e3e"/><stop offset="0.229" stop-color="#1b1b1b"/><stop offset="0.261" stop-color="#080808"/><stop offset="0.294" stop-color="#0a0a0a"/><stop offset="0.327" stop-color="#212121"/><stop offset="0.359" stop-color="#454545"/><stop offset="0.392" stop-color="#6c6c6c"/><stop offset="0.425" stop-color="#8a8a8a"/><stop offset="0.458" stop-color="#939393"/><stop offset="0.490" stop-color="#828282"/><stop offset="0.523" stop-color="#5a5a5a"/><stop offset="0.556" stop-color="#303030"/><stop offset="0.588" stop-color="#1e1e1e"/><stop offset="0.621" stop-color="#313131"/><stop offset="0.654" stop-color="#5d5d5d"/><stop offset="0.686" stop-color="#8d8d8d"/><stop offset="0.719" stop-color="#aeaeae"/><stop offset="0.752" stop-color="#c0c0c0"/><stop offset="0.784" stop-color="#c7c7c7"/><stop offset="0.817" stop-color="#c9c9c9"/><stop offset="1.013" stop-color="#c8c8c8"/></linearGradient><linearGradient id="p39" x1="0" y1="0" x2="0" y2="1"><stop offset="0.000" stop-color="#cecece"/><stop offset="0.033" stop-color="#c8c8c8"/><stop offset="0.065" stop-color="#bdbdbd"/><stop offset="0.098" stop-color="#aaaaaa"/><stop offset="0.131" stop-color="#8d8d8d"/><stop offset="0.163" stop-color="#676767"/><stop offset="0.196" stop-color="#3e3e3e"/><stop offset="0.229" stop-color="#1b1b1b"/><stop offset="0.261" stop-color="#080808"/><stop offset="0.294" stop-color="#0a0a0a"/><stop offset="0.327" stop-color="#212121"/><stop offset="0.359" stop-color="#454545"/><stop offset="0.392" stop-color="#6c6c6c"/><stop offset="0.425" stop-color="#8a8a8a"/><stop offset="0.458" stop-color="#939393"/><stop offset="0.490" stop-color="#828282"/><stop offset="0.523" stop-color="#5a5a5a"/><stop offset="0.556" stop-color="#303030"/><stop offset="0.588" stop-color="#1e1e1e"/><stop offset="0.621" stop-color="#313131"/><stop offset="0.654" stop-color="#5d5d5d"/><stop offset="0.686" stop-color="#8d8d8d"/><stop offset="0.719" stop-color="#aeaeae"/><stop offset="0.752" stop-color="#c0c0c0"/><stop offset="0.784" stop-color="#c7c7c7"/><stop offset="0.817" stop-color="#c9c9c9"/><stop offset="1.013" stop-color="#c8c8c8"/></linearGradient><linearGradient id="p40" x1="0" y1="0" x2="0" y2="1"><stop offset="0.000" stop-color="#cecece"/><stop offset="0.033" stop-color="#c8c8c8"/><stop offset="0.065" stop-color="#bdbdbd"/><stop offset="0.098" stop-color="#aaaaaa"/><stop offset="0.131" stop-color="#8d8d8d"/><stop offset="0.163" stop-color="#676767"/><stop offset="0.196" stop-color="#3e3e3e"/><stop offset="0.229" stop-color="#1b1b1b"/><stop offset="0.261" stop-color="#080808"/><stop offset="0.294" stop-color="#0a0a0a"/><stop offset="0.327" stop-color="#212121"/><stop offset="0.359" stop-color="#454545"/><stop offset="0.392" stop-color="#6c6c6c"/><stop offset="0.425" stop-color="#8a8a8a"/><stop offset="0.458" stop-color="#939393"/><stop offset="0.490" stop-color="#828282"/><stop offset="0.523" stop-color="#5a5a5a"/><stop offset="0.556" stop-color="#303030"/><stop offset="0.588" stop-color="#1e1e1e"/><stop offset="0.621" stop-color="#313131"/><stop offset="0.654" stop-color="#5d5d5d"/><stop offset="0.686" stop-color="#8d8d8d"/><stop offset="0.719" stop-color="#aeaeae"/><stop offset="0.752" stop-color="#c0c0c0"/><stop offset="0.784" stop-color="#c7c7c7"/><stop offset="0.817" stop-color="#c9c9c9"/><stop offset="1.013" stop-color="#c8c8c8"/></linearGradient><linearGradient id="p41" x1="0" y1="0" x2="0" y2="1"><stop offset="0.000" stop-color="#b9b9b9"/><stop offset="0.121" stop-color="#b6b6b6"/><stop offset="0.152" stop-color="#b3b3b3"/><stop offset="0.182" stop-color="#acacac"/><stop offset="0.212" stop-color="#9d9d9d"/><stop offset="0.242" stop-color="#838383"/><stop offset="0.273" stop-color="#5e5e5e"/><stop offset="0.303" stop-color="#363636"/><stop offset="0.333" stop-color="#171717"/><stop offset="0.364" stop-color="#0f0f0f"/><stop offset="0.394" stop-color="#202020"/><stop offset="0.424" stop-color="#424242"/><stop offset="0.455" stop-color="#606060"/><stop offset="0.485" stop-color="#6a6a6a"/><stop offset="0.515" stop-color="#5a5a5a"/><stop offset="0.545" stop-color="#393939"/><stop offset="0.576" stop-color="#191919"/><stop offset="0.606" stop-color="#0c0c0c"/><stop offset="0.636" stop-color="#191919"/><stop offset="0.667" stop-color="#3b3b3b"/><stop offset="0.697" stop-color="#626262"/><stop offset="0.727" stop-color="#848484"/><stop offset="0.758" stop-color="#9b9b9b"/><stop offset="0.788" stop-color="#a7a7a7"/><stop offset="0.818" stop-color="#acacac"/><stop offset="0.848" stop-color="#adadad"/><stop offset="1.000" stop-color="#acacac"/></linearGradient><linearGradient id="p42" x1="0" y1="0" x2="0" y2="1"><stop offset="0.000" stop-color="#b9b9b9"/><stop offset="0.121" stop-color="#b6b6b6"/><stop offset="0.152" stop-color="#b3b3b3"/><stop offset="0.182" stop-color="#adadad"/><stop offset="0.212" stop-color="#9e9e9e"/><stop offset="0.242" stop-color="#848484"/><stop offset="0.273" stop-color="#606060"/><stop offset="0.303" stop-color="#383838"/><stop offset="0.333" stop-color="#1a1a1a"/><stop offset="0.364" stop-color="#121212"/><stop offset="0.394" stop-color="#242424"/><stop offset="0.424" stop-color="#444444"/><stop offset="0.455" stop-color="#626262"/><stop offset="0.485" stop-color="#6c6c6c"/><stop offset="0.515" stop-color="#5c5c5c"/><stop offset="0.545" stop-color="#3d3d3d"/><stop offset="0.576" stop-color="#1e1e1e"/><stop offset="0.606" stop-color="#121212"/><stop offset="0.636" stop-color="#1e1e1e"/><stop offset="0.667" stop-color="#3e3e3e"/><stop offset="0.697" stop-color="#656565"/><stop offset="0.727" stop-color="#868686"/><stop offset="0.758" stop-color="#9b9b9b"/><stop offset="0.788" stop-color="#a7a7a7"/><stop offset="0.818" stop-color="#acacac"/><stop offset="0.848" stop-color="#adadad"/><stop offset="1.000" stop-color="#acacac"/></linearGradient><linearGradient id="p43" x1="0" y1="0" x2="0" y2="1"><stop offset="0.000" stop-color="#b9b9b9"/><stop offset="0.121" stop-color="#b6b6b6"/><stop offset="0.152" stop-color="#b4b4b4"/><stop offset="0.182" stop-color="#adadad"/><stop offset="0.212" stop-color="#9f9f9f"/><stop offset="0.242" stop-color="#878787"/><stop offset="0.273" stop-color="#656565"/><stop offset="0.303" stop-color="#3f3f3f"/><stop offset="0.333" stop-color="#232323"/><stop offset="0.364" stop-color="#1b1b1b"/><stop offset="0.394" stop-color="#2c2c2c"/><stop offset="0.424" stop-color="#4a4a4a"/><stop offset="0.455" stop-color="#666666"/><stop offset="0.485" stop-color="#6f6f6f"/><stop offset="0.515" stop-color="#616161"/><stop offset="0.545" stop-color="#434343"/><stop offset="0.576" stop-color="#262626"/><stop offset="0.606" stop-color="#1a1a1a"/><stop offset="0.636" stop-color="#262626"/><stop offset="0.667" stop-color="#454545"/><stop offset="0.697" stop-color="#696969"/><stop offset="0.727" stop-color="#888888"/><stop offset="0.758" stop-color="#9c9c9c"/><stop offset="0.788" stop-color="#a7a7a7"/><stop offset="0.818" stop-color="#acacac"/><stop offset="0.879" stop-color="#adadad"/><stop offset="1.000" stop-color="#acacac"/></linearGradient><linearGradient id="p44" x1="0" y1="0" x2="0" y2="1"><stop offset="0.000" stop-color="#b9b9b9"/><stop offset="0.121" stop-color="#b7b7b7"/><stop offset="0.152" stop-color="#b6b6b6"/><stop offset="0.182" stop-color="#b3b3b3"/><stop offset="0.212" stop-color="#afafaf"/><stop offset="0.242" stop-color="#a6a6a6"/><stop offset="0.273" stop-color="#9b9b9b"/><stop offset="0.303" stop-color="#8e8e8e"/><stop offset="0.333" stop-color="#858585"/><stop offset="0.364" stop-color="#828282"/><stop offset="0.394" stop-color="#868686"/><stop offset="0.424" stop-color="#8f8f8f"/><stop offset="0.455" stop-color="#979797"/><stop offset="0.485" stop-color="#999999"/><stop offset="0.515" stop-color="#939393"/><stop offset="0.545" stop-color="#878787"/><stop offset="0.576" stop-color="#7d7d7d"/><stop offset="0.606" stop-color="#787878"/><stop offset="0.636" stop-color="#7d7d7d"/><stop offset="0.667" stop-color="#888888"/><stop offset="0.697" stop-color="#959595"/><stop offset="0.727" stop-color="#a1a1a1"/><stop offset="0.758" stop-color="#a8a8a8"/><stop offset="0.788" stop-color="#acacac"/><stop offset="0.848" stop-color="#aeaeae"/><stop offset="1.000" stop-color="#acacac"/></linearGradient><linearGradient id="p45" x1="0" y1="0" x2="0" y2="1"><stop offset="0.000" stop-color="#b9b9b9"/><stop offset="0.121" stop-color="#b7b7b7"/><stop offset="0.152" stop-color="#b6b6b6"/><stop offset="0.182" stop-color="#b4b4b4"/><stop offset="0.212" stop-color="#b0b0b0"/><stop offset="0.242" stop-color="#a8a8a8"/><stop offset="0.273" stop-color="#9e9e9e"/><stop offset="0.303" stop-color="#929292"/><stop offset="0.333" stop-color="#8a8a8a"/><stop offset="0.364" stop-color="#878787"/><stop offset="0.394" stop-color="#8b8b8b"/><stop offset="0.424" stop-color="#939393"/><stop offset="0.455" stop-color="#9a9a9a"/><stop offset="0.485" stop-color="#9c9c9c"/><stop offset="0.515" stop-color="#979797"/><stop offset="0.545" stop-color="#8d8d8d"/><stop offset="0.576" stop-color="#838383"/><stop offset="0.606" stop-color="#7f7f7f"/><stop offset="0.636" stop-color="#838383"/><stop offset="0.667" stop-color="#8d8d8d"/><stop offset="0.697" stop-color="#999999"/><stop offset="0.727" stop-color="#a3a3a3"/><stop offset="0.758" stop-color="#a9a9a9"/><stop offset="0.788" stop-color="#acacac"/><stop offset="1.000" stop-color="#acacac"/></linearGradient><linearGradient id="p46" x1="0" y1="0" x2="0" y2="1"><stop offset="0.000" stop-color="#cdcdcd"/><stop offset="0.076" stop-color="#cccccc"/><stop offset="0.114" stop-color="#c9c9c9"/><stop offset="0.152" stop-color="#c4c4c4"/><stop offset="0.189" stop-color="#b7b7b7"/><stop offset="0.227" stop-color="#9e9e9e"/><stop offset="0.265" stop-color="#787878"/><stop offset="0.303" stop-color="#4a4a4a"/><stop offset="0.341" stop-color="#202020"/><stop offset="0.379" stop-color="#0b0b0b"/><stop offset="0.417" stop-color="#141414"/><stop offset="0.455" stop-color="#373737"/><stop offset="0.492" stop-color="#636363"/><stop offset="0.530" stop-color="#878787"/><stop offset="0.568" stop-color="#969696"/><stop offset="0.606" stop-color="#8b8b8b"/><stop offset="0.644" stop-color="#696969"/><stop offset="0.682" stop-color="#3c3c3c"/><stop offset="0.720" stop-color="#151515"/><stop offset="0.758" stop-color="#060606"/><stop offset="0.795" stop-color="#151515"/><stop offset="0.833" stop-color="#3c3c3c"/><stop offset="0.871" stop-color="#6a6a6a"/><stop offset="0.909" stop-color="#929292"/><stop offset="0.947" stop-color="#acacac"/><stop offset="0.985" stop-color="#bababa"/></linearGradient><linearGradient id="p47" x1="0" y1="0" x2="0" y2="1"><stop offset="0.000" stop-color="#cdcdcd"/><stop offset="0.076" stop-color="#cccccc"/><stop offset="0.114" stop-color="#c9c9c9"/><stop offset="0.152" stop-color="#c4c4c4"/><stop offset="0.189" stop-color="#b7b7b7"/><stop offset="0.227" stop-color="#9e9e9e"/><stop offset="0.265" stop-color="#787878"/><stop offset="0.303" stop-color="#4a4a4a"/><stop offset="0.341" stop-color="#202020"/><stop offset="0.379" stop-color="#0b0b0b"/><stop offset="0.417" stop-color="#141414"/><stop offset="0.455" stop-color="#373737"/><stop offset="0.492" stop-color="#636363"/><stop offset="0.530" stop-color="#878787"/><stop offset="0.568" stop-color="#969696"/><stop offset="0.606" stop-color="#8b8b8b"/><stop offset="0.644" stop-color="#696969"/><stop offset="0.682" stop-color="#3c3c3c"/><stop offset="0.720" stop-color="#151515"/><stop offset="0.758" stop-color="#060606"/><stop offset="0.795" stop-color="#151515"/><stop offset="0.833" stop-color="#3c3c3c"/><stop offset="0.871" stop-color="#6a6a6a"/><stop offset="0.909" stop-color="#929292"/><stop offset="0.947" stop-color="#acacac"/><stop offset="0.985" stop-color="#bababa"/></linearGradient><linearGradient id="p48" x1="0" y1="0" x2="0" y2="1"><stop offset="0.000" stop-color="#cdcdcd"/><stop offset="0.076" stop-color="#cccccc"/><stop offset="0.114" stop-color="#c9c9c9"/><stop offset="0.152" stop-color="#c4c4c4"/><stop offset="0.189" stop-color="#b7b7b7"/><stop offset="0.227" stop-color="#9e9e9e"/><stop offset="0.265" stop-color="#787878"/><stop offset="0.303" stop-color="#4a4a4a"/><stop offset="0.341" stop-color="#202020"/><stop offset="0.379" stop-color="#0b0b0b"/><stop offset="0.417" stop-color="#141414"/><stop offset="0.455" stop-color="#373737"/><stop offset="0.492" stop-color="#636363"/><stop offset="0.530" stop-color="#878787"/><stop offset="0.568" stop-color="#969696"/><stop offset="0.606" stop-color="#8b8b8b"/><stop offset="0.644" stop-color="#696969"/><stop offset="0.682" stop-color="#3c3c3c"/><stop offset="0.720" stop-color="#151515"/><stop offset="0.758" stop-color="#060606"/><stop offset="0.795" stop-color="#151515"/><stop offset="0.833" stop-color="#3c3c3c"/><stop offset="0.871" stop-color="#6a6a6a"/><stop offset="0.909" stop-color="#929292"/><stop offset="0.947" stop-color="#acacac"/><stop offset="0.985" stop-color="#bababa"/></linearGradient><linearGradient id="p49" x1="0" y1="0" x2="0" y2="1"><stop offset="0.000" stop-color="#cdcdcd"/><stop offset="0.076" stop-color="#cccccc"/><stop offset="0.114" stop-color="#c9c9c9"/><stop offset="0.152" stop-color="#c4c4c4"/><stop offset="0.189" stop-color="#b7b7b7"/><stop offset="0.227" stop-color="#9e9e9e"/><stop offset="0.265" stop-color="#787878"/><stop offset="0.303" stop-color="#4a4a4a"/><stop offset="0.341" stop-color="#202020"/><stop offset="0.379" stop-color="#0b0b0b"/><stop offset="0.417" stop-color="#141414"/><stop offset="0.455" stop-color="#373737"/><stop offset="0.492" stop-color="#636363"/><stop offset="0.530" stop-color="#878787"/><stop offset="0.568" stop-color="#969696"/><stop offset="0.606" stop-color="#8b8b8b"/><stop offset="0.644" stop-color="#696969"/><stop offset="0.682" stop-color="#3c3c3c"/><stop offset="0.720" stop-color="#151515"/><stop offset="0.758" stop-color="#060606"/><stop offset="0.795" stop-color="#151515"/><stop offset="0.833" stop-color="#3c3c3c"/><stop offset="0.871" stop-color="#6a6a6a"/><stop offset="0.909" stop-color="#929292"/><stop offset="0.947" stop-color="#acacac"/><stop offset="0.985" stop-color="#bababa"/></linearGradient><linearGradient id="p50" x1="0" y1="0" x2="0" y2="1"><stop offset="0.000" stop-color="#cdcdcd"/><stop offset="0.076" stop-color="#cccccc"/><stop offset="0.114" stop-color="#c9c9c9"/><stop offset="0.152" stop-color="#c4c4c4"/><stop offset="0.189" stop-color="#b7b7b7"/><stop offset="0.227" stop-color="#9e9e9e"/><stop offset="0.265" stop-color="#787878"/><stop offset="0.303" stop-color="#4a4a4a"/><stop offset="0.341" stop-color="#202020"/><stop offset="0.379" stop-color="#0b0b0b"/><stop offset="0.417" stop-color="#141414"/><stop offset="0.455" stop-color="#373737"/><stop offset="0.492" stop-color="#636363"/><stop offset="0.530" stop-color="#878787"/><stop offset="0.568" stop-color="#969696"/><stop offset="0.606" stop-color="#8b8b8b"/><stop offset="0.644" stop-color="#696969"/><stop offset="0.682" stop-color="#3c3c3c"/><stop offset="0.720" stop-color="#151515"/><stop offset="0.758" stop-color="#060606"/><stop offset="0.795" stop-color="#151515"/><stop offset="0.833" stop-color="#3c3c3c"/><stop offset="0.871" stop-color="#6a6a6a"/><stop offset="0.909" stop-color="#929292"/><stop offset="0.947" stop-color="#acacac"/><stop offset="0.985" stop-color="#bababa"/></linearGradient><linearGradient id="p51" x1="0" y1="0" x2="0" y2="1"><stop offset="0.000" stop-color="#d8d8d8"/><stop offset="0.263" stop-color="#d6d6d6"/><stop offset="0.428" stop-color="#d5d5d5"/><stop offset="0.461" stop-color="#d2d2d2"/><stop offset="0.493" stop-color="#c9c9c9"/><stop offset="0.526" stop-color="#b1b1b1"/><stop offset="0.559" stop-color="#838383"/><stop offset="0.592" stop-color="#454545"/><stop offset="0.625" stop-color="#141414"/><stop offset="0.658" stop-color="#0f0f0f"/><stop offset="0.691" stop-color="#393939"/><stop offset="0.724" stop-color="#777777"/><stop offset="0.757" stop-color="#a9a9a9"/><stop offset="0.789" stop-color="#c4c4c4"/><stop offset="0.822" stop-color="#cfcfcf"/><stop offset="0.855" stop-color="#d2d2d2"/><stop offset="0.987" stop-color="#d2d2d2"/></linearGradient><linearGradient id="p52" x1="0" y1="0" x2="0" y2="1"><stop offset="0.000" stop-color="#d8d8d8"/><stop offset="0.263" stop-color="#d6d6d6"/><stop offset="0.428" stop-color="#d5d5d5"/><stop offset="0.461" stop-color="#d2d2d2"/><stop offset="0.493" stop-color="#cacaca"/><stop offset="0.526" stop-color="#b2b2b2"/><stop offset="0.559" stop-color="#858585"/><stop offset="0.592" stop-color="#484848"/><stop offset="0.625" stop-color="#181818"/><stop offset="0.658" stop-color="#131313"/><stop offset="0.691" stop-color="#3c3c3c"/><stop offset="0.724" stop-color="#797979"/><stop offset="0.757" stop-color="#aaaaaa"/><stop offset="0.789" stop-color="#c5c5c5"/><stop offset="0.822" stop-color="#cfcfcf"/><stop offset="0.855" stop-color="#d2d2d2"/><stop offset="0.987" stop-color="#d2d2d2"/></linearGradient><linearGradient id="p53" x1="0" y1="0" x2="0" y2="1"><stop offset="0.000" stop-color="#d8d8d8"/><stop offset="0.263" stop-color="#d6d6d6"/><stop offset="0.428" stop-color="#d5d5d5"/><stop offset="0.461" stop-color="#d2d2d2"/><stop offset="0.493" stop-color="#cacaca"/><stop offset="0.526" stop-color="#b3b3b3"/><stop offset="0.559" stop-color="#878787"/><stop offset="0.592" stop-color="#4d4d4d"/><stop offset="0.625" stop-color="#1e1e1e"/><stop offset="0.658" stop-color="#191919"/><stop offset="0.691" stop-color="#414141"/><stop offset="0.724" stop-color="#7c7c7c"/><stop offset="0.757" stop-color="#ababab"/><stop offset="0.789" stop-color="#c5c5c5"/><stop offset="0.822" stop-color="#cfcfcf"/><stop offset="0.855" stop-color="#d2d2d2"/><stop offset="0.987" stop-color="#d2d2d2"/></linearGradient><linearGradient id="p54" x1="0" y1="0" x2="0" y2="1"><stop offset="0.000" stop-color="#d8d8d8"/><stop offset="0.263" stop-color="#d6d6d6"/><stop offset="0.461" stop-color="#d4d4d4"/><stop offset="0.493" stop-color="#d0d0d0"/><stop offset="0.526" stop-color="#c5c5c5"/><stop offset="0.559" stop-color="#b1b1b1"/><stop offset="0.592" stop-color="#959595"/><stop offset="0.625" stop-color="#7f7f7f"/><stop offset="0.658" stop-color="#7d7d7d"/><stop offset="0.691" stop-color="#8f8f8f"/><stop offset="0.724" stop-color="#ababab"/><stop offset="0.757" stop-color="#c1c1c1"/><stop offset="0.789" stop-color="#cdcdcd"/><stop offset="0.822" stop-color="#d1d1d1"/><stop offset="0.987" stop-color="#d2d2d2"/></linearGradient><linearGradient id="p55" x1="0" y1="0" x2="0" y2="1"><stop offset="0.000" stop-color="#d8d8d8"/><stop offset="0.263" stop-color="#d6d6d6"/><stop offset="0.461" stop-color="#d5d5d5"/><stop offset="0.493" stop-color="#d3d3d3"/><stop offset="0.526" stop-color="#d0d0d0"/><stop offset="0.559" stop-color="#c9c9c9"/><stop offset="0.592" stop-color="#bfbfbf"/><stop offset="0.625" stop-color="#b8b8b8"/><stop offset="0.658" stop-color="#b7b7b7"/><stop offset="0.691" stop-color="#bdbdbd"/><stop offset="0.724" stop-color="#c6c6c6"/><stop offset="0.757" stop-color="#cdcdcd"/><stop offset="0.789" stop-color="#d1d1d1"/><stop offset="0.855" stop-color="#d3d3d3"/><stop offset="0.987" stop-color="#d2d2d2"/></linearGradient><linearGradient id="p56" x1="0" y1="0" x2="0" y2="1"><stop offset="0.000" stop-color="#cdcdcd"/><stop offset="0.033" stop-color="#c4c4c4"/><stop offset="0.066" stop-color="#b4b4b4"/><stop offset="0.099" stop-color="#9d9d9d"/><stop offset="0.132" stop-color="#7e7e7e"/><stop offset="0.166" stop-color="#595959"/><stop offset="0.199" stop-color="#343434"/><stop offset="0.232" stop-color="#161616"/><stop offset="0.265" stop-color="#060606"/><stop offset="0.298" stop-color="#080808"/><stop offset="0.331" stop-color="#1b1b1b"/><stop offset="0.364" stop-color="#3a3a3a"/><stop offset="0.397" stop-color="#5b5b5b"/><stop offset="0.430" stop-color="#747474"/><stop offset="0.464" stop-color="#767676"/><stop offset="0.497" stop-color="#626262"/><stop offset="0.530" stop-color="#454545"/><stop offset="0.563" stop-color="#393939"/><stop offset="0.596" stop-color="#4a4a4a"/><stop offset="0.629" stop-color="#707070"/><stop offset="0.662" stop-color="#9a9a9a"/><stop offset="0.695" stop-color="#b8b8b8"/><stop offset="0.728" stop-color="#c7c7c7"/><stop offset="0.762" stop-color="#cdcdcd"/><stop offset="0.795" stop-color="#cfcfcf"/><stop offset="0.993" stop-color="#cecece"/></linearGradient><linearGradient id="p57" x1="0" y1="0" x2="0" y2="1"><stop offset="0.000" stop-color="#cdcdcd"/><stop offset="0.033" stop-color="#c4c4c4"/><stop offset="0.066" stop-color="#b4b4b4"/><stop offset="0.099" stop-color="#9d9d9d"/><stop offset="0.132" stop-color="#7e7e7e"/><stop offset="0.166" stop-color="#595959"/><stop offset="0.199" stop-color="#343434"/><stop offset="0.232" stop-color="#161616"/><stop offset="0.265" stop-color="#060606"/><stop offset="0.298" stop-color="#080808"/><stop offset="0.331" stop-color="#1b1b1b"/><stop offset="0.364" stop-color="#3a3a3a"/><stop offset="0.397" stop-color="#5b5b5b"/><stop offset="0.430" stop-color="#747474"/><stop offset="0.464" stop-color="#767676"/><stop offset="0.497" stop-color="#626262"/><stop offset="0.530" stop-color="#454545"/><stop offset="0.563" stop-color="#393939"/><stop offset="0.596" stop-color="#4a4a4a"/><stop offset="0.629" stop-color="#707070"/><stop offset="0.662" stop-color="#9a9a9a"/><stop offset="0.695" stop-color="#b8b8b8"/><stop offset="0.728" stop-color="#c7c7c7"/><stop offset="0.762" stop-color="#cdcdcd"/><stop offset="0.795" stop-color="#cfcfcf"/><stop offset="0.993" stop-color="#cecece"/></linearGradient><linearGradient id="p58" x1="0" y1="0" x2="0" y2="1"><stop offset="0.000" stop-color="#cdcdcd"/><stop offset="0.033" stop-color="#c4c4c4"/><stop offset="0.066" stop-color="#b4b4b4"/><stop offset="0.099" stop-color="#9d9d9d"/><stop offset="0.132" stop-color="#7e7e7e"/><stop offset="0.166" stop-color="#595959"/><stop offset="0.199" stop-color="#343434"/><stop offset="0.232" stop-color="#161616"/><stop offset="0.265" stop-color="#060606"/><stop offset="0.298" stop-color="#080808"/><stop offset="0.331" stop-color="#1b1b1b"/><stop offset="0.364" stop-color="#3a3a3a"/><stop offset="0.397" stop-color="#5b5b5b"/><stop offset="0.430" stop-color="#747474"/><stop offset="0.464" stop-color="#767676"/><stop offset="0.497" stop-color="#626262"/><stop offset="0.530" stop-color="#454545"/><stop offset="0.563" stop-color="#393939"/><stop offset="0.596" stop-color="#4a4a4a"/><stop offset="0.629" stop-color="#707070"/><stop offset="0.662" stop-color="#9a9a9a"/><stop offset="0.695" stop-color="#b8b8b8"/><stop offset="0.728" stop-color="#c7c7c7"/><stop offset="0.762" stop-color="#cdcdcd"/><stop offset="0.795" stop-color="#cfcfcf"/><stop offset="0.993" stop-color="#cecece"/></linearGradient><linearGradient id="p59" x1="0" y1="0" x2="0" y2="1"><stop offset="0.000" stop-color="#cdcdcd"/><stop offset="0.033" stop-color="#c4c4c4"/><stop offset="0.066" stop-color="#b4b4b4"/><stop offset="0.099" stop-color="#9d9d9d"/><stop offset="0.132" stop-color="#7e7e7e"/><stop offset="0.166" stop-color="#595959"/><stop offset="0.199" stop-color="#343434"/><stop offset="0.232" stop-color="#161616"/><stop offset="0.265" stop-color="#060606"/><stop offset="0.298" stop-color="#080808"/><stop offset="0.331" stop-color="#1b1b1b"/><stop offset="0.364" stop-color="#3a3a3a"/><stop offset="0.397" stop-color="#5b5b5b"/><stop offset="0.430" stop-color="#747474"/><stop offset="0.464" stop-color="#767676"/><stop offset="0.497" stop-color="#626262"/><stop offset="0.530" stop-color="#454545"/><stop offset="0.563" stop-color="#393939"/><stop offset="0.596" stop-color="#4a4a4a"/><stop offset="0.629" stop-color="#707070"/><stop offset="0.662" stop-color="#9a9a9a"/><stop offset="0.695" stop-color="#b8b8b8"/><stop offset="0.728" stop-color="#c7c7c7"/><stop offset="0.762" stop-color="#cdcdcd"/><stop offset="0.795" stop-color="#cfcfcf"/><stop offset="0.993" stop-color="#cecece"/></linearGradient><linearGradient id="p60" x1="0" y1="0" x2="0" y2="1"><stop offset="0.000" stop-color="#cdcdcd"/><stop offset="0.033" stop-color="#c4c4c4"/><stop offset="0.066" stop-color="#b4b4b4"/><stop offset="0.099" stop-color="#9d9d9d"/><stop offset="0.132" stop-color="#7e7e7e"/><stop offset="0.166" stop-color="#595959"/><stop offset="0.199" stop-color="#343434"/><stop offset="0.232" stop-color="#161616"/><stop offset="0.265" stop-color="#060606"/><stop offset="0.298" stop-color="#080808"/><stop offset="0.331" stop-color="#1b1b1b"/><stop offset="0.364" stop-color="#3a3a3a"/><stop offset="0.397" stop-color="#5b5b5b"/><stop offset="0.430" stop-color="#747474"/><stop offset="0.464" stop-color="#767676"/><stop offset="0.497" stop-color="#626262"/><stop offset="0.530" stop-color="#454545"/><stop offset="0.563" stop-color="#393939"/><stop offset="0.596" stop-color="#4a4a4a"/><stop offset="0.629" stop-color="#707070"/><stop offset="0.662" stop-color="#9a9a9a"/><stop offset="0.695" stop-color="#b8b8b8"/><stop offset="0.728" stop-color="#c7c7c7"/><stop offset="0.762" stop-color="#cdcdcd"/><stop offset="0.795" stop-color="#cfcfcf"/><stop offset="0.993" stop-color="#cecece"/></linearGradient><linearGradient id="p61" x1="0" y1="0" x2="0" y2="1"><stop offset="0.000" stop-color="#c4c4c4"/><stop offset="0.035" stop-color="#c2c2c2"/><stop offset="0.069" stop-color="#bebebe"/><stop offset="0.104" stop-color="#b5b5b5"/><stop offset="0.139" stop-color="#a3a3a3"/><stop offset="0.174" stop-color="#868686"/><stop offset="0.208" stop-color="#5d5d5d"/><stop offset="0.243" stop-color="#343434"/><stop offset="0.278" stop-color="#181818"/><stop offset="0.312" stop-color="#151515"/><stop offset="0.347" stop-color="#2c2c2c"/><stop offset="0.382" stop-color="#505050"/><stop offset="0.417" stop-color="#6f6f6f"/><stop offset="0.451" stop-color="#7a7a7a"/><stop offset="0.486" stop-color="#6c6c6c"/><stop offset="0.521" stop-color="#4c4c4c"/><stop offset="0.556" stop-color="#272727"/><stop offset="0.590" stop-color="#0e0e0e"/><stop offset="0.625" stop-color="#0b0b0b"/><stop offset="0.660" stop-color="#202020"/><stop offset="0.694" stop-color="#454545"/><stop offset="0.729" stop-color="#6c6c6c"/><stop offset="0.764" stop-color="#8c8c8c"/><stop offset="0.799" stop-color="#a1a1a1"/><stop offset="0.833" stop-color="#acacac"/><stop offset="0.868" stop-color="#b1b1b1"/><stop offset="0.903" stop-color="#b3b3b3"/><stop offset="1.007" stop-color="#b2b2b2"/></linearGradient><linearGradient id="p62" x1="0" y1="0" x2="0" y2="1"><stop offset="0.000" stop-color="#c4c4c4"/><stop offset="0.035" stop-color="#c2c2c2"/><stop offset="0.069" stop-color="#bebebe"/><stop offset="0.104" stop-color="#b5b5b5"/><stop offset="0.139" stop-color="#a3a3a3"/><stop offset="0.174" stop-color="#868686"/><stop offset="0.208" stop-color="#5d5d5d"/><stop offset="0.243" stop-color="#343434"/><stop offset="0.278" stop-color="#181818"/><stop offset="0.312" stop-color="#151515"/><stop offset="0.347" stop-color="#2c2c2c"/><stop offset="0.382" stop-color="#505050"/><stop offset="0.417" stop-color="#6f6f6f"/><stop offset="0.451" stop-color="#7a7a7a"/><stop offset="0.486" stop-color="#6c6c6c"/><stop offset="0.521" stop-color="#4c4c4c"/><stop offset="0.556" stop-color="#272727"/><stop offset="0.590" stop-color="#0e0e0e"/><stop offset="0.625" stop-color="#0b0b0b"/><stop offset="0.660" stop-color="#202020"/><stop offset="0.694" stop-color="#454545"/><stop offset="0.729" stop-color="#6c6c6c"/><stop offset="0.764" stop-color="#8c8c8c"/><stop offset="0.799" stop-color="#a1a1a1"/><stop offset="0.833" stop-color="#acacac"/><stop offset="0.868" stop-color="#b1b1b1"/><stop offset="0.903" stop-color="#b3b3b3"/><stop offset="1.007" stop-color="#b2b2b2"/></linearGradient><linearGradient id="p63" x1="0" y1="0" x2="0" y2="1"><stop offset="0.000" stop-color="#c4c4c4"/><stop offset="0.035" stop-color="#c2c2c2"/><stop offset="0.069" stop-color="#bfbfbf"/><stop offset="0.104" stop-color="#b8b8b8"/><stop offset="0.139" stop-color="#a9a9a9"/><stop offset="0.174" stop-color="#919191"/><stop offset="0.208" stop-color="#717171"/><stop offset="0.243" stop-color="#505050"/><stop offset="0.278" stop-color="#393939"/><stop offset="0.312" stop-color="#373737"/><stop offset="0.347" stop-color="#494949"/><stop offset="0.382" stop-color="#656565"/><stop offset="0.417" stop-color="#7d7d7d"/><stop offset="0.451" stop-color="#848484"/><stop offset="0.486" stop-color="#777777"/><stop offset="0.521" stop-color="#5a5a5a"/><stop offset="0.556" stop-color="#3b3b3b"/><stop offset="0.590" stop-color="#252525"/><stop offset="0.625" stop-color="#232323"/><stop offset="0.660" stop-color="#353535"/><stop offset="0.694" stop-color="#545454"/><stop offset="0.729" stop-color="#767676"/><stop offset="0.764" stop-color="#919191"/><stop offset="0.799" stop-color="#a4a4a4"/><stop offset="0.833" stop-color="#adadad"/><stop offset="0.868" stop-color="#b2b2b2"/><stop offset="1.007" stop-color="#b2b2b2"/></linearGradient><linearGradient id="p64" x1="0" y1="0" x2="0" y2="1"><stop offset="0.000" stop-color="#c4c4c4"/><stop offset="0.035" stop-color="#c3c3c3"/><stop offset="0.069" stop-color="#c1c1c1"/><stop offset="0.104" stop-color="#bebebe"/><stop offset="0.139" stop-color="#b7b7b7"/><stop offset="0.174" stop-color="#acacac"/><stop offset="0.208" stop-color="#9d9d9d"/><stop offset="0.243" stop-color="#8e8e8e"/><stop offset="0.278" stop-color="#848484"/><stop offset="0.312" stop-color="#828282"/><stop offset="0.347" stop-color="#898989"/><stop offset="0.382" stop-color="#959595"/><stop offset="0.417" stop-color="#9e9e9e"/><stop offset="0.451" stop-color="#a0a0a0"/><stop offset="0.486" stop-color="#989898"/><stop offset="0.521" stop-color="#898989"/><stop offset="0.556" stop-color="#797979"/><stop offset="0.590" stop-color="#6d6d6d"/><stop offset="0.625" stop-color="#6c6c6c"/><stop offset="0.660" stop-color="#757575"/><stop offset="0.694" stop-color="#858585"/><stop offset="0.729" stop-color="#969696"/><stop offset="0.764" stop-color="#a3a3a3"/><stop offset="0.799" stop-color="#acacac"/><stop offset="0.833" stop-color="#b1b1b1"/><stop offset="0.868" stop-color="#b3b3b3"/><stop offset="1.007" stop-color="#b2b2b2"/></linearGradient><linearGradient id="p65" x1="0" y1="0" x2="0" y2="1"><stop offset="0.000" stop-color="#c4c4c4"/><stop offset="0.069" stop-color="#c2c2c2"/><stop offset="0.104" stop-color="#bfbfbf"/><stop offset="0.139" stop-color="#bababa"/><stop offset="0.174" stop-color="#b2b2b2"/><stop offset="0.208" stop-color="#a8a8a8"/><stop offset="0.243" stop-color="#9e9e9e"/><stop offset="0.278" stop-color="#969696"/><stop offset="0.312" stop-color="#959595"/><stop offset="0.347" stop-color="#9a9a9a"/><stop offset="0.382" stop-color="#a1a1a1"/><stop offset="0.417" stop-color="#a8a8a8"/><stop offset="0.451" stop-color="#a9a9a9"/><stop offset="0.486" stop-color="#a3a3a3"/><stop offset="0.521" stop-color="#999999"/><stop offset="0.556" stop-color="#8e8e8e"/><stop offset="0.590" stop-color="#878787"/><stop offset="0.625" stop-color="#868686"/><stop offset="0.660" stop-color="#8b8b8b"/><stop offset="0.694" stop-color="#969696"/><stop offset="0.729" stop-color="#a1a1a1"/><stop offset="0.764" stop-color="#aaaaaa"/><stop offset="0.799" stop-color="#afafaf"/><stop offset="0.833" stop-color="#b2b2b2"/><stop offset="1.007" stop-color="#b2b2b2"/></linearGradient><linearGradient id="p66" x1="0" y1="0" x2="0" y2="1"><stop offset="0.000" stop-color="#c0c0c0"/><stop offset="0.037" stop-color="#aaaaaa"/><stop offset="0.074" stop-color="#848484"/><stop offset="0.110" stop-color="#535353"/><stop offset="0.147" stop-color="#2a2a2a"/><stop offset="0.184" stop-color="#1f1f1f"/><stop offset="0.221" stop-color="#373737"/><stop offset="0.257" stop-color="#636363"/><stop offset="0.294" stop-color="#898989"/><stop offset="0.331" stop-color="#989898"/><stop offset="0.368" stop-color="#8b8b8b"/><stop offset="0.404" stop-color="#6a6a6a"/><stop offset="0.441" stop-color="#414141"/><stop offset="0.478" stop-color="#1c1c1c"/><stop offset="0.515" stop-color="#0a0a0a"/><stop offset="0.551" stop-color="#121212"/><stop offset="0.588" stop-color="#303030"/><stop offset="0.625" stop-color="#585858"/><stop offset="0.662" stop-color="#7e7e7e"/><stop offset="0.699" stop-color="#969696"/><stop offset="0.735" stop-color="#9a9a9a"/><stop offset="0.772" stop-color="#8f8f8f"/><stop offset="0.809" stop-color="#848484"/><stop offset="0.846" stop-color="#868686"/><stop offset="0.882" stop-color="#969696"/><stop offset="0.919" stop-color="#a8a8a8"/><stop offset="0.956" stop-color="#b3b3b3"/><stop offset="0.993" stop-color="#b7b7b7"/></linearGradient><linearGradient id="p67" x1="0" y1="0" x2="0" y2="1"><stop offset="0.000" stop-color="#c0c0c0"/><stop offset="0.037" stop-color="#aaaaaa"/><stop offset="0.074" stop-color="#848484"/><stop offset="0.110" stop-color="#535353"/><stop offset="0.147" stop-color="#2a2a2a"/><stop offset="0.184" stop-color="#1f1f1f"/><stop offset="0.221" stop-color="#373737"/><stop offset="0.257" stop-color="#636363"/><stop offset="0.294" stop-color="#898989"/><stop offset="0.331" stop-color="#989898"/><stop offset="0.368" stop-color="#8b8b8b"/><stop offset="0.404" stop-color="#6a6a6a"/><stop offset="0.441" stop-color="#414141"/><stop offset="0.478" stop-color="#1c1c1c"/><stop offset="0.515" stop-color="#0a0a0a"/><stop offset="0.551" stop-color="#121212"/><stop offset="0.588" stop-color="#303030"/><stop offset="0.625" stop-color="#585858"/><stop offset="0.662" stop-color="#7e7e7e"/><stop offset="0.699" stop-color="#969696"/><stop offset="0.735" stop-color="#9a9a9a"/><stop offset="0.772" stop-color="#8f8f8f"/><stop offset="0.809" stop-color="#848484"/><stop offset="0.846" stop-color="#868686"/><stop offset="0.882" stop-color="#969696"/><stop offset="0.919" stop-color="#a8a8a8"/><stop offset="0.956" stop-color="#b3b3b3"/><stop offset="0.993" stop-color="#b7b7b7"/></linearGradient><linearGradient id="p68" x1="0" y1="0" x2="0" y2="1"><stop offset="0.000" stop-color="#c0c0c0"/><stop offset="0.037" stop-color="#aaaaaa"/><stop offset="0.074" stop-color="#848484"/><stop offset="0.110" stop-color="#535353"/><stop offset="0.147" stop-color="#2a2a2a"/><stop offset="0.184" stop-color="#1f1f1f"/><stop offset="0.221" stop-color="#373737"/><stop offset="0.257" stop-color="#636363"/><stop offset="0.294" stop-color="#898989"/><stop offset="0.331" stop-color="#989898"/><stop offset="0.368" stop-color="#8b8b8b"/><stop offset="0.404" stop-color="#6a6a6a"/><stop offset="0.441" stop-color="#414141"/><stop offset="0.478" stop-color="#1c1c1c"/><stop offset="0.515" stop-color="#0a0a0a"/><stop offset="0.551" stop-color="#121212"/><stop offset="0.588" stop-color="#303030"/><stop offset="0.625" stop-color="#585858"/><stop offset="0.662" stop-color="#7e7e7e"/><stop offset="0.699" stop-color="#969696"/><stop offset="0.735" stop-color="#9a9a9a"/><stop offset="0.772" stop-color="#8f8f8f"/><stop offset="0.809" stop-color="#848484"/><stop offset="0.846" stop-color="#868686"/><stop offset="0.882" stop-color="#969696"/><stop offset="0.919" stop-color="#a8a8a8"/><stop offset="0.956" stop-color="#b3b3b3"/><stop offset="0.993" stop-color="#b7b7b7"/></linearGradient><linearGradient id="p69" x1="0" y1="0" x2="0" y2="1"><stop offset="0.000" stop-color="#c0c0c0"/><stop offset="0.037" stop-color="#aaaaaa"/><stop offset="0.074" stop-color="#848484"/><stop offset="0.110" stop-color="#535353"/><stop offset="0.147" stop-color="#2a2a2a"/><stop offset="0.184" stop-color="#1f1f1f"/><stop offset="0.221" stop-color="#373737"/><stop offset="0.257" stop-color="#636363"/><stop offset="0.294" stop-color="#898989"/><stop offset="0.331" stop-color="#989898"/><stop offset="0.368" stop-color="#8b8b8b"/><stop offset="0.404" stop-color="#6a6a6a"/><stop offset="0.441" stop-color="#414141"/><stop offset="0.478" stop-color="#1c1c1c"/><stop offset="0.515" stop-color="#0a0a0a"/><stop offset="0.551" stop-color="#121212"/><stop offset="0.588" stop-color="#303030"/><stop offset="0.625" stop-color="#585858"/><stop offset="0.662" stop-color="#7e7e7e"/><stop offset="0.699" stop-color="#969696"/><stop offset="0.735" stop-color="#9a9a9a"/><stop offset="0.772" stop-color="#8f8f8f"/><stop offset="0.809" stop-color="#848484"/><stop offset="0.846" stop-color="#868686"/><stop offset="0.882" stop-color="#969696"/><stop offset="0.919" stop-color="#a8a8a8"/><stop offset="0.956" stop-color="#b3b3b3"/><stop offset="0.993" stop-color="#b7b7b7"/></linearGradient><linearGradient id="p70" x1="0" y1="0" x2="0" y2="1"><stop offset="0.000" stop-color="#c0c0c0"/><stop offset="0.037" stop-color="#aaaaaa"/><stop offset="0.074" stop-color="#848484"/><stop offset="0.110" stop-color="#535353"/><stop offset="0.147" stop-color="#2a2a2a"/><stop offset="0.184" stop-color="#1f1f1f"/><stop offset="0.221" stop-color="#373737"/><stop offset="0.257" stop-color="#636363"/><stop offset="0.294" stop-color="#898989"/><stop offset="0.331" stop-color="#989898"/><stop offset="0.368" stop-color="#8b8b8b"/><stop offset="0.404" stop-color="#6a6a6a"/><stop offset="0.441" stop-color="#414141"/><stop offset="0.478" stop-color="#1c1c1c"/><stop offset="0.515" stop-color="#0a0a0a"/><stop offset="0.551" stop-color="#121212"/><stop offset="0.588" stop-color="#303030"/><stop offset="0.625" stop-color="#585858"/><stop offset="0.662" stop-color="#7e7e7e"/><stop offset="0.699" stop-color="#969696"/><stop offset="0.735" stop-color="#9a9a9a"/><stop offset="0.772" stop-color="#8f8f8f"/><stop offset="0.809" stop-color="#848484"/><stop offset="0.846" stop-color="#868686"/><stop offset="0.882" stop-color="#969696"/><stop offset="0.919" stop-color="#a8a8a8"/><stop offset="0.956" stop-color="#b3b3b3"/><stop offset="0.993" stop-color="#b7b7b7"/></linearGradient><linearGradient id="p71" x1="0" y1="0" x2="0" y2="1"><stop offset="0.000" stop-color="#d2d2d2"/><stop offset="0.155" stop-color="#d0d0d0"/><stop offset="0.280" stop-color="#cecece"/><stop offset="0.311" stop-color="#cdcdcd"/><stop offset="0.342" stop-color="#c8c8c8"/><stop offset="0.373" stop-color="#bcbcbc"/><stop offset="0.404" stop-color="#a1a1a1"/><stop offset="0.435" stop-color="#757575"/><stop offset="0.466" stop-color="#404040"/><stop offset="0.497" stop-color="#181818"/><stop offset="0.528" stop-color="#141414"/><stop offset="0.559" stop-color="#353535"/><stop offset="0.590" stop-color="#696969"/><stop offset="0.621" stop-color="#989898"/><stop offset="0.652" stop-color="#b3b3b3"/><stop offset="0.683" stop-color="#b9b9b9"/><stop offset="0.714" stop-color="#afafaf"/><stop offset="0.745" stop-color="#9a9a9a"/><stop offset="0.776" stop-color="#8a8a8a"/><stop offset="0.807" stop-color="#8c8c8c"/><stop offset="0.839" stop-color="#9e9e9e"/><stop offset="0.870" stop-color="#b2b2b2"/><stop offset="0.901" stop-color="#bfbfbf"/><stop offset="0.932" stop-color="#c5c5c5"/><stop offset="0.994" stop-color="#c6c6c6"/></linearGradient><linearGradient id="p72" x1="0" y1="0" x2="0" y2="1"><stop offset="0.000" stop-color="#d2d2d2"/><stop offset="0.155" stop-color="#d0d0d0"/><stop offset="0.280" stop-color="#cecece"/><stop offset="0.311" stop-color="#cdcdcd"/><stop offset="0.342" stop-color="#c8c8c8"/><stop offset="0.373" stop-color="#bcbcbc"/><stop offset="0.404" stop-color="#a1a1a1"/><stop offset="0.435" stop-color="#757575"/><stop offset="0.466" stop-color="#404040"/><stop offset="0.497" stop-color="#181818"/><stop offset="0.528" stop-color="#141414"/><stop offset="0.559" stop-color="#353535"/><stop offset="0.590" stop-color="#696969"/><stop offset="0.621" stop-color="#989898"/><stop offset="0.652" stop-color="#b3b3b3"/><stop offset="0.683" stop-color="#b9b9b9"/><stop offset="0.714" stop-color="#afafaf"/><stop offset="0.745" stop-color="#9a9a9a"/><stop offset="0.776" stop-color="#8a8a8a"/><stop offset="0.807" stop-color="#8c8c8c"/><stop offset="0.839" stop-color="#9e9e9e"/><stop offset="0.870" stop-color="#b2b2b2"/><stop offset="0.901" stop-color="#bfbfbf"/><stop offset="0.932" stop-color="#c5c5c5"/><stop offset="0.994" stop-color="#c6c6c6"/></linearGradient><linearGradient id="p73" x1="0" y1="0" x2="0" y2="1"><stop offset="0.000" stop-color="#d2d2d2"/><stop offset="0.155" stop-color="#d0d0d0"/><stop offset="0.280" stop-color="#cecece"/><stop offset="0.311" stop-color="#cdcdcd"/><stop offset="0.342" stop-color="#c9c9c9"/><stop offset="0.373" stop-color="#bdbdbd"/><stop offset="0.404" stop-color="#a2a2a2"/><stop offset="0.435" stop-color="#777777"/><stop offset="0.466" stop-color="#434343"/><stop offset="0.497" stop-color="#1c1c1c"/><stop offset="0.528" stop-color="#181818"/><stop offset="0.559" stop-color="#393939"/><stop offset="0.590" stop-color="#6c6c6c"/><stop offset="0.621" stop-color="#999999"/><stop offset="0.652" stop-color="#b3b3b3"/><stop offset="0.683" stop-color="#bababa"/><stop offset="0.714" stop-color="#afafaf"/><stop offset="0.745" stop-color="#9a9a9a"/><stop offset="0.776" stop-color="#8a8a8a"/><stop offset="0.807" stop-color="#8c8c8c"/><stop offset="0.839" stop-color="#9e9e9e"/><stop offset="0.870" stop-color="#b2b2b2"/><stop offset="0.901" stop-color="#bfbfbf"/><stop offset="0.932" stop-color="#c5c5c5"/><stop offset="0.994" stop-color="#c6c6c6"/></linearGradient><linearGradient id="p74" x1="0" y1="0" x2="0" y2="1"><stop offset="0.000" stop-color="#d2d2d2"/><stop offset="0.155" stop-color="#d0d0d0"/><stop offset="0.280" stop-color="#cecece"/><stop offset="0.311" stop-color="#cdcdcd"/><stop offset="0.342" stop-color="#cacaca"/><stop offset="0.373" stop-color="#c1c1c1"/><stop offset="0.404" stop-color="#aeaeae"/><stop offset="0.435" stop-color="#8f8f8f"/><stop offset="0.466" stop-color="#696969"/><stop offset="0.497" stop-color="#4d4d4d"/><stop offset="0.528" stop-color="#4a4a4a"/><stop offset="0.559" stop-color="#616161"/><stop offset="0.590" stop-color="#868686"/><stop offset="0.621" stop-color="#a6a6a6"/><stop offset="0.652" stop-color="#b9b9b9"/><stop offset="0.683" stop-color="#bbbbbb"/><stop offset="0.714" stop-color="#afafaf"/><stop offset="0.745" stop-color="#9a9a9a"/><stop offset="0.776" stop-color="#8a8a8a"/><stop offset="0.807" stop-color="#8c8c8c"/><stop offset="0.839" stop-color="#9e9e9e"/><stop offset="0.870" stop-color="#b2b2b2"/><stop offset="0.901" stop-color="#bfbfbf"/><stop offset="0.932" stop-color="#c5c5c5"/><stop offset="0.994" stop-color="#c6c6c6"/></linearGradient><linearGradient id="p75" x1="0" y1="0" x2="0" y2="1"><stop offset="0.000" stop-color="#d2d2d2"/><stop offset="0.155" stop-color="#d0d0d0"/><stop offset="0.280" stop-color="#cecece"/><stop offset="0.311" stop-color="#cdcdcd"/><stop offset="0.342" stop-color="#cacaca"/><stop offset="0.373" stop-color="#c2c2c2"/><stop offset="0.404" stop-color="#b0b0b0"/><stop offset="0.435" stop-color="#929292"/><stop offset="0.466" stop-color="#6d6d6d"/><stop offset="0.497" stop-color="#535353"/><stop offset="0.528" stop-color="#505050"/><stop offset="0.559" stop-color="#666666"/><stop offset="0.590" stop-color="#898989"/><stop offset="0.621" stop-color="#a8a8a8"/><stop offset="0.652" stop-color="#bababa"/><stop offset="0.683" stop-color="#bcbcbc"/><stop offset="0.714" stop-color="#afafaf"/><stop offset="0.745" stop-color="#9a9a9a"/><stop offset="0.776" stop-color="#8a8a8a"/><stop offset="0.807" stop-color="#8c8c8c"/><stop offset="0.839" stop-color="#9e9e9e"/><stop offset="0.870" stop-color="#b2b2b2"/><stop offset="0.901" stop-color="#bfbfbf"/><stop offset="0.932" stop-color="#c5c5c5"/><stop offset="0.994" stop-color="#c6c6c6"/></linearGradient><linearGradient id="p76" x1="0" y1="0" x2="0" y2="1"><stop offset="0.000" stop-color="#d6d6d6"/><stop offset="0.064" stop-color="#d5d5d5"/><stop offset="0.096" stop-color="#d3d3d3"/><stop offset="0.127" stop-color="#d0d0d0"/><stop offset="0.159" stop-color="#c9c9c9"/><stop offset="0.191" stop-color="#bebebe"/><stop offset="0.223" stop-color="#acacac"/><stop offset="0.255" stop-color="#919191"/><stop offset="0.287" stop-color="#707070"/><stop offset="0.318" stop-color="#4b4b4b"/><stop offset="0.350" stop-color="#282828"/><stop offset="0.382" stop-color="#0f0f0f"/><stop offset="0.414" stop-color="#060606"/><stop offset="0.446" stop-color="#0f0f0f"/><stop offset="0.478" stop-color="#282828"/><stop offset="0.510" stop-color="#4a4a4a"/><stop offset="0.541" stop-color="#6f6f6f"/><stop offset="0.573" stop-color="#8f8f8f"/><stop offset="0.605" stop-color="#a4a4a4"/><stop offset="0.637" stop-color="#a9a9a9"/><stop offset="0.669" stop-color="#999999"/><stop offset="0.701" stop-color="#767676"/><stop offset="0.732" stop-color="#535353"/><stop offset="0.764" stop-color="#494949"/><stop offset="0.796" stop-color="#606060"/><stop offset="0.828" stop-color="#898989"/><stop offset="0.860" stop-color="#adadad"/><stop offset="0.892" stop-color="#c2c2c2"/><stop offset="0.924" stop-color="#cbcbcb"/><stop offset="0.955" stop-color="#cecece"/><stop offset="0.987" stop-color="#cecece"/></linearGradient><linearGradient id="p77" x1="0" y1="0" x2="0" y2="1"><stop offset="0.000" stop-color="#d6d6d6"/><stop offset="0.064" stop-color="#d5d5d5"/><stop offset="0.096" stop-color="#d3d3d3"/><stop offset="0.127" stop-color="#d0d0d0"/><stop offset="0.159" stop-color="#c9c9c9"/><stop offset="0.191" stop-color="#bebebe"/><stop offset="0.223" stop-color="#acacac"/><stop offset="0.255" stop-color="#919191"/><stop offset="0.287" stop-color="#707070"/><stop offset="0.318" stop-color="#4b4b4b"/><stop offset="0.350" stop-color="#282828"/><stop offset="0.382" stop-color="#0f0f0f"/><stop offset="0.414" stop-color="#060606"/><stop offset="0.446" stop-color="#0f0f0f"/><stop offset="0.478" stop-color="#282828"/><stop offset="0.510" stop-color="#4a4a4a"/><stop offset="0.541" stop-color="#6f6f6f"/><stop offset="0.573" stop-color="#8f8f8f"/><stop offset="0.605" stop-color="#a4a4a4"/><stop offset="0.637" stop-color="#a9a9a9"/><stop offset="0.669" stop-color="#999999"/><stop offset="0.701" stop-color="#767676"/><stop offset="0.732" stop-color="#535353"/><stop offset="0.764" stop-color="#494949"/><stop offset="0.796" stop-color="#606060"/><stop offset="0.828" stop-color="#898989"/><stop offset="0.860" stop-color="#adadad"/><stop offset="0.892" stop-color="#c2c2c2"/><stop offset="0.924" stop-color="#cbcbcb"/><stop offset="0.955" stop-color="#cecece"/><stop offset="0.987" stop-color="#cecece"/></linearGradient><linearGradient id="p78" x1="0" y1="0" x2="0" y2="1"><stop offset="0.000" stop-color="#d6d6d6"/><stop offset="0.064" stop-color="#d5d5d5"/><stop offset="0.096" stop-color="#d3d3d3"/><stop offset="0.127" stop-color="#d0d0d0"/><stop offset="0.159" stop-color="#c9c9c9"/><stop offset="0.191" stop-color="#bebebe"/><stop offset="0.223" stop-color="#acacac"/><stop offset="0.255" stop-color="#919191"/><stop offset="0.287" stop-color="#707070"/><stop offset="0.318" stop-color="#4b4b4b"/><stop offset="0.350" stop-color="#282828"/><stop offset="0.382" stop-color="#0f0f0f"/><stop offset="0.414" stop-color="#060606"/><stop offset="0.446" stop-color="#0f0f0f"/><stop offset="0.478" stop-color="#282828"/><stop offset="0.510" stop-color="#4a4a4a"/><stop offset="0.541" stop-color="#6f6f6f"/><stop offset="0.573" stop-color="#8f8f8f"/><stop offset="0.605" stop-color="#a4a4a4"/><stop offset="0.637" stop-color="#a9a9a9"/><stop offset="0.669" stop-color="#999999"/><stop offset="0.701" stop-color="#767676"/><stop offset="0.732" stop-color="#535353"/><stop offset="0.764" stop-color="#494949"/><stop offset="0.796" stop-color="#606060"/><stop offset="0.828" stop-color="#898989"/><stop offset="0.860" stop-color="#adadad"/><stop offset="0.892" stop-color="#c2c2c2"/><stop offset="0.924" stop-color="#cbcbcb"/><stop offset="0.955" stop-color="#cecece"/><stop offset="0.987" stop-color="#cecece"/></linearGradient><linearGradient id="p79" x1="0" y1="0" x2="0" y2="1"><stop offset="0.000" stop-color="#d6d6d6"/><stop offset="0.064" stop-color="#d5d5d5"/><stop offset="0.096" stop-color="#d3d3d3"/><stop offset="0.127" stop-color="#d0d0d0"/><stop offset="0.159" stop-color="#c9c9c9"/><stop offset="0.191" stop-color="#bebebe"/><stop offset="0.223" stop-color="#acacac"/><stop offset="0.255" stop-color="#919191"/><stop offset="0.287" stop-color="#707070"/><stop offset="0.318" stop-color="#4b4b4b"/><stop offset="0.350" stop-color="#282828"/><stop offset="0.382" stop-color="#0f0f0f"/><stop offset="0.414" stop-color="#060606"/><stop offset="0.446" stop-color="#0f0f0f"/><stop offset="0.478" stop-color="#282828"/><stop offset="0.510" stop-color="#4a4a4a"/><stop offset="0.541" stop-color="#6f6f6f"/><stop offset="0.573" stop-color="#8f8f8f"/><stop offset="0.605" stop-color="#a4a4a4"/><stop offset="0.637" stop-color="#a9a9a9"/><stop offset="0.669" stop-color="#999999"/><stop offset="0.701" stop-color="#767676"/><stop offset="0.732" stop-color="#535353"/><stop offset="0.764" stop-color="#494949"/><stop offset="0.796" stop-color="#606060"/><stop offset="0.828" stop-color="#898989"/><stop offset="0.860" stop-color="#adadad"/><stop offset="0.892" stop-color="#c2c2c2"/><stop offset="0.924" stop-color="#cbcbcb"/><stop offset="0.955" stop-color="#cecece"/><stop offset="0.987" stop-color="#cecece"/></linearGradient><linearGradient id="p80" x1="0" y1="0" x2="0" y2="1"><stop offset="0.000" stop-color="#d6d6d6"/><stop offset="0.064" stop-color="#d5d5d5"/><stop offset="0.096" stop-color="#d3d3d3"/><stop offset="0.127" stop-color="#d0d0d0"/><stop offset="0.159" stop-color="#c9c9c9"/><stop offset="0.191" stop-color="#bebebe"/><stop offset="0.223" stop-color="#acacac"/><stop offset="0.255" stop-color="#919191"/><stop offset="0.287" stop-color="#707070"/><stop offset="0.318" stop-color="#4b4b4b"/><stop offset="0.350" stop-color="#282828"/><stop offset="0.382" stop-color="#0f0f0f"/><stop offset="0.414" stop-color="#060606"/><stop offset="0.446" stop-color="#0f0f0f"/><stop offset="0.478" stop-color="#282828"/><stop offset="0.510" stop-color="#4a4a4a"/><stop offset="0.541" stop-color="#6f6f6f"/><stop offset="0.573" stop-color="#8f8f8f"/><stop offset="0.605" stop-color="#a4a4a4"/><stop offset="0.637" stop-color="#a9a9a9"/><stop offset="0.669" stop-color="#999999"/><stop offset="0.701" stop-color="#767676"/><stop offset="0.732" stop-color="#535353"/><stop offset="0.764" stop-color="#494949"/><stop offset="0.796" stop-color="#606060"/><stop offset="0.828" stop-color="#898989"/><stop offset="0.860" stop-color="#adadad"/><stop offset="0.892" stop-color="#c2c2c2"/><stop offset="0.924" stop-color="#cbcbcb"/><stop offset="0.955" stop-color="#cecece"/><stop offset="0.987" stop-color="#cecece"/></linearGradient><linearGradient id="p81" x1="0" y1="0" x2="0" y2="1"><stop offset="0.000" stop-color="#a2a2a2"/><stop offset="0.171" stop-color="#a0a0a0"/><stop offset="0.240" stop-color="#9e9e9e"/><stop offset="0.274" stop-color="#9a9a9a"/><stop offset="0.308" stop-color="#929292"/><stop offset="0.342" stop-color="#828282"/><stop offset="0.377" stop-color="#686868"/><stop offset="0.411" stop-color="#464646"/><stop offset="0.445" stop-color="#252525"/><stop offset="0.479" stop-color="#111111"/><stop offset="0.514" stop-color="#131313"/><stop offset="0.548" stop-color="#272727"/><stop offset="0.582" stop-color="#3c3c3c"/><stop offset="0.616" stop-color="#424242"/><stop offset="0.651" stop-color="#343434"/><stop offset="0.685" stop-color="#1d1d1d"/><stop offset="0.719" stop-color="#101010"/><stop offset="0.753" stop-color="#161616"/><stop offset="0.788" stop-color="#303030"/><stop offset="0.822" stop-color="#525252"/><stop offset="0.856" stop-color="#707070"/><stop offset="0.890" stop-color="#858585"/><stop offset="0.925" stop-color="#909090"/><stop offset="0.959" stop-color="#959595"/><stop offset="0.993" stop-color="#979797"/></linearGradient><linearGradient id="p82" x1="0" y1="0" x2="0" y2="1"><stop offset="0.000" stop-color="#a2a2a2"/><stop offset="0.171" stop-color="#a0a0a0"/><stop offset="0.240" stop-color="#9e9e9e"/><stop offset="0.274" stop-color="#9a9a9a"/><stop offset="0.308" stop-color="#929292"/><stop offset="0.342" stop-color="#828282"/><stop offset="0.377" stop-color="#686868"/><stop offset="0.411" stop-color="#464646"/><stop offset="0.445" stop-color="#252525"/><stop offset="0.479" stop-color="#111111"/><stop offset="0.514" stop-color="#131313"/><stop offset="0.548" stop-color="#272727"/><stop offset="0.582" stop-color="#3c3c3c"/><stop offset="0.616" stop-color="#434343"/><stop offset="0.651" stop-color="#363636"/><stop offset="0.685" stop-color="#202020"/><stop offset="0.719" stop-color="#131313"/><stop offset="0.753" stop-color="#191919"/><stop offset="0.788" stop-color="#323232"/><stop offset="0.822" stop-color="#535353"/><stop offset="0.856" stop-color="#717171"/><stop offset="0.890" stop-color="#858585"/><stop offset="0.925" stop-color="#919191"/><stop offset="0.959" stop-color="#969696"/><stop offset="0.993" stop-color="#979797"/></linearGradient><linearGradient id="p83" x1="0" y1="0" x2="0" y2="1"><stop offset="0.000" stop-color="#a2a2a2"/><stop offset="0.171" stop-color="#a0a0a0"/><stop offset="0.240" stop-color="#9e9e9e"/><stop offset="0.274" stop-color="#9a9a9a"/><stop offset="0.308" stop-color="#929292"/><stop offset="0.342" stop-color="#828282"/><stop offset="0.377" stop-color="#686868"/><stop offset="0.411" stop-color="#464646"/><stop offset="0.445" stop-color="#252525"/><stop offset="0.479" stop-color="#111111"/><stop offset="0.514" stop-color="#131313"/><stop offset="0.548" stop-color="#272727"/><stop offset="0.582" stop-color="#3c3c3c"/><stop offset="0.616" stop-color="#424242"/><stop offset="0.651" stop-color="#343434"/><stop offset="0.685" stop-color="#1d1d1d"/><stop offset="0.719" stop-color="#101010"/><stop offset="0.753" stop-color="#161616"/><stop offset="0.788" stop-color="#303030"/><stop offset="0.822" stop-color="#525252"/><stop offset="0.856" stop-color="#707070"/><stop offset="0.890" stop-color="#858585"/><stop offset="0.925" stop-color="#909090"/><stop offset="0.959" stop-color="#959595"/><stop offset="0.993" stop-color="#979797"/></linearGradient><linearGradient id="p84" x1="0" y1="0" x2="0" y2="1"><stop offset="0.000" stop-color="#a2a2a2"/><stop offset="0.171" stop-color="#a0a0a0"/><stop offset="0.240" stop-color="#9f9f9f"/><stop offset="0.274" stop-color="#9e9e9e"/><stop offset="0.308" stop-color="#9a9a9a"/><stop offset="0.342" stop-color="#949494"/><stop offset="0.377" stop-color="#8b8b8b"/><stop offset="0.411" stop-color="#7f7f7f"/><stop offset="0.445" stop-color="#737373"/><stop offset="0.479" stop-color="#6b6b6b"/><stop offset="0.514" stop-color="#6b6b6b"/><stop offset="0.548" stop-color="#707070"/><stop offset="0.582" stop-color="#767676"/><stop offset="0.616" stop-color="#787878"/><stop offset="0.651" stop-color="#737373"/><stop offset="0.685" stop-color="#6c6c6c"/><stop offset="0.719" stop-color="#696969"/><stop offset="0.753" stop-color="#6b6b6b"/><stop offset="0.788" stop-color="#747474"/><stop offset="0.822" stop-color="#808080"/><stop offset="0.856" stop-color="#8b8b8b"/><stop offset="0.890" stop-color="#929292"/><stop offset="0.925" stop-color="#969696"/><stop offset="0.959" stop-color="#979797"/><stop offset="0.993" stop-color="#989898"/></linearGradient><linearGradient id="p85" x1="0" y1="0" x2="0" y2="1"><stop offset="0.000" stop-color="#a2a2a2"/><stop offset="0.171" stop-color="#a0a0a0"/><stop offset="0.274" stop-color="#9e9e9e"/><stop offset="0.308" stop-color="#9b9b9b"/><stop offset="0.342" stop-color="#959595"/><stop offset="0.377" stop-color="#8c8c8c"/><stop offset="0.411" stop-color="#808080"/><stop offset="0.445" stop-color="#757575"/><stop offset="0.479" stop-color="#6e6e6e"/><stop offset="0.514" stop-color="#6e6e6e"/><stop offset="0.548" stop-color="#737373"/><stop offset="0.582" stop-color="#787878"/><stop offset="0.616" stop-color="#7a7a7a"/><stop offset="0.651" stop-color="#767676"/><stop offset="0.685" stop-color="#6f6f6f"/><stop offset="0.719" stop-color="#6c6c6c"/><stop offset="0.753" stop-color="#6e6e6e"/><stop offset="0.788" stop-color="#777777"/><stop offset="0.822" stop-color="#828282"/><stop offset="0.856" stop-color="#8c8c8c"/><stop offset="0.890" stop-color="#929292"/><stop offset="0.925" stop-color="#969696"/><stop offset="0.993" stop-color="#989898"/></linearGradient><linearGradient id="p86" x1="0" y1="0" x2="0" y2="1"><stop offset="0.000" stop-color="#bfbfbf"/><stop offset="0.040" stop-color="#b6b6b6"/><stop offset="0.081" stop-color="#a0a0a0"/><stop offset="0.121" stop-color="#7b7b7b"/><stop offset="0.161" stop-color="#525252"/><stop offset="0.202" stop-color="#3a3a3a"/><stop offset="0.242" stop-color="#444444"/><stop offset="0.282" stop-color="#646464"/><stop offset="0.323" stop-color="#808080"/><stop offset="0.363" stop-color="#838383"/><stop offset="0.403" stop-color="#6e6e6e"/><stop offset="0.444" stop-color="#4c4c4c"/><stop offset="0.484" stop-color="#2c2c2c"/><stop offset="0.524" stop-color="#1d1d1d"/><stop offset="0.565" stop-color="#242424"/><stop offset="0.605" stop-color="#3e3e3e"/><stop offset="0.645" stop-color="#616161"/><stop offset="0.685" stop-color="#7f7f7f"/><stop offset="0.726" stop-color="#8a8a8a"/><stop offset="0.766" stop-color="#7e7e7e"/><stop offset="0.806" stop-color="#767676"/><stop offset="0.847" stop-color="#868686"/><stop offset="0.887" stop-color="#a2a2a2"/><stop offset="0.927" stop-color="#b3b3b3"/><stop offset="0.968" stop-color="#b8b8b8"/><stop offset="1.008" stop-color="#b9b9b9"/></linearGradient><linearGradient id="p87" x1="0" y1="0" x2="0" y2="1"><stop offset="0.000" stop-color="#bfbfbf"/><stop offset="0.040" stop-color="#b6b6b6"/><stop offset="0.081" stop-color="#a0a0a0"/><stop offset="0.121" stop-color="#7b7b7b"/><stop offset="0.161" stop-color="#525252"/><stop offset="0.202" stop-color="#3a3a3a"/><stop offset="0.242" stop-color="#444444"/><stop offset="0.282" stop-color="#646464"/><stop offset="0.323" stop-color="#808080"/><stop offset="0.363" stop-color="#838383"/><stop offset="0.403" stop-color="#6e6e6e"/><stop offset="0.444" stop-color="#4c4c4c"/><stop offset="0.484" stop-color="#2c2c2c"/><stop offset="0.524" stop-color="#1d1d1d"/><stop offset="0.565" stop-color="#242424"/><stop offset="0.605" stop-color="#3e3e3e"/><stop offset="0.645" stop-color="#616161"/><stop offset="0.685" stop-color="#7f7f7f"/><stop offset="0.726" stop-color="#8a8a8a"/><stop offset="0.766" stop-color="#7e7e7e"/><stop offset="0.806" stop-color="#767676"/><stop offset="0.847" stop-color="#868686"/><stop offset="0.887" stop-color="#a2a2a2"/><stop offset="0.927" stop-color="#b3b3b3"/><stop offset="0.968" stop-color="#b8b8b8"/><stop offset="1.008" stop-color="#b9b9b9"/></linearGradient><linearGradient id="p88" x1="0" y1="0" x2="0" y2="1"><stop offset="0.000" stop-color="#bfbfbf"/><stop offset="0.040" stop-color="#b6b6b6"/><stop offset="0.081" stop-color="#a0a0a0"/><stop offset="0.121" stop-color="#7b7b7b"/><stop offset="0.161" stop-color="#525252"/><stop offset="0.202" stop-color="#3a3a3a"/><stop offset="0.242" stop-color="#444444"/><stop offset="0.282" stop-color="#646464"/><stop offset="0.323" stop-color="#808080"/><stop offset="0.363" stop-color="#838383"/><stop offset="0.403" stop-color="#6e6e6e"/><stop offset="0.444" stop-color="#4c4c4c"/><stop offset="0.484" stop-color="#2c2c2c"/><stop offset="0.524" stop-color="#1d1d1d"/><stop offset="0.565" stop-color="#242424"/><stop offset="0.605" stop-color="#3e3e3e"/><stop offset="0.645" stop-color="#616161"/><stop offset="0.685" stop-color="#7f7f7f"/><stop offset="0.726" stop-color="#8a8a8a"/><stop offset="0.766" stop-color="#7e7e7e"/><stop offset="0.806" stop-color="#767676"/><stop offset="0.847" stop-color="#868686"/><stop offset="0.887" stop-color="#a2a2a2"/><stop offset="0.927" stop-color="#b3b3b3"/><stop offset="0.968" stop-color="#b8b8b8"/><stop offset="1.008" stop-color="#b9b9b9"/></linearGradient><linearGradient id="p89" x1="0" y1="0" x2="0" y2="1"><stop offset="0.000" stop-color="#bfbfbf"/><stop offset="0.040" stop-color="#b6b6b6"/><stop offset="0.081" stop-color="#a0a0a0"/><stop offset="0.121" stop-color="#7b7b7b"/><stop offset="0.161" stop-color="#525252"/><stop offset="0.202" stop-color="#3a3a3a"/><stop offset="0.242" stop-color="#444444"/><stop offset="0.282" stop-color="#646464"/><stop offset="0.323" stop-color="#808080"/><stop offset="0.363" stop-color="#838383"/><stop offset="0.403" stop-color="#6e6e6e"/><stop offset="0.444" stop-color="#4c4c4c"/><stop offset="0.484" stop-color="#2c2c2c"/><stop offset="0.524" stop-color="#1d1d1d"/><stop offset="0.565" stop-color="#242424"/><stop offset="0.605" stop-color="#3e3e3e"/><stop offset="0.645" stop-color="#616161"/><stop offset="0.685" stop-color="#7f7f7f"/><stop offset="0.726" stop-color="#8a8a8a"/><stop offset="0.766" stop-color="#7e7e7e"/><stop offset="0.806" stop-color="#767676"/><stop offset="0.847" stop-color="#868686"/><stop offset="0.887" stop-color="#a2a2a2"/><stop offset="0.927" stop-color="#b3b3b3"/><stop offset="0.968" stop-color="#b8b8b8"/><stop offset="1.008" stop-color="#b9b9b9"/></linearGradient><linearGradient id="p90" x1="0" y1="0" x2="0" y2="1"><stop offset="0.000" stop-color="#bfbfbf"/><stop offset="0.040" stop-color="#b6b6b6"/><stop offset="0.081" stop-color="#a0a0a0"/><stop offset="0.121" stop-color="#7b7b7b"/><stop offset="0.161" stop-color="#525252"/><stop offset="0.202" stop-color="#3a3a3a"/><stop offset="0.242" stop-color="#444444"/><stop offset="0.282" stop-color="#646464"/><stop offset="0.323" stop-color="#808080"/><stop offset="0.363" stop-color="#838383"/><stop offset="0.403" stop-color="#6e6e6e"/><stop offset="0.444" stop-color="#4c4c4c"/><stop offset="0.484" stop-color="#2c2c2c"/><stop offset="0.524" stop-color="#1d1d1d"/><stop offset="0.565" stop-color="#242424"/><stop offset="0.605" stop-color="#3e3e3e"/><stop offset="0.645" stop-color="#616161"/><stop offset="0.685" stop-color="#7f7f7f"/><stop offset="0.726" stop-color="#8a8a8a"/><stop offset="0.766" stop-color="#7e7e7e"/><stop offset="0.806" stop-color="#767676"/><stop offset="0.847" stop-color="#868686"/><stop offset="0.887" stop-color="#a2a2a2"/><stop offset="0.927" stop-color="#b3b3b3"/><stop offset="0.968" stop-color="#b8b8b8"/><stop offset="1.008" stop-color="#b9b9b9"/></linearGradient><linearGradient id="p91" x1="0" y1="0" x2="0" y2="1"><stop offset="0.000" stop-color="#cdcdcd"/><stop offset="0.160" stop-color="#cbcbcb"/><stop offset="0.224" stop-color="#cacaca"/><stop offset="0.256" stop-color="#c8c8c8"/><stop offset="0.288" stop-color="#c1c1c1"/><stop offset="0.321" stop-color="#b0b0b0"/><stop offset="0.353" stop-color="#8d8d8d"/><stop offset="0.385" stop-color="#5b5b5b"/><stop offset="0.417" stop-color="#272727"/><stop offset="0.449" stop-color="#0b0b0b"/><stop offset="0.481" stop-color="#171717"/><stop offset="0.513" stop-color="#444444"/><stop offset="0.545" stop-color="#787878"/><stop offset="0.577" stop-color="#9b9b9b"/><stop offset="0.609" stop-color="#a4a4a4"/><stop offset="0.641" stop-color="#979797"/><stop offset="0.673" stop-color="#848484"/><stop offset="0.705" stop-color="#7b7b7b"/><stop offset="0.737" stop-color="#848484"/><stop offset="0.769" stop-color="#9a9a9a"/><stop offset="0.801" stop-color="#afafaf"/><stop offset="0.833" stop-color="#bcbcbc"/><stop offset="0.865" stop-color="#c2c2c2"/><stop offset="0.897" stop-color="#c3c3c3"/><stop offset="0.994" stop-color="#c3c3c3"/></linearGradient><linearGradient id="p92" x1="0" y1="0" x2="0" y2="1"><stop offset="0.000" stop-color="#cdcdcd"/><stop offset="0.160" stop-color="#cbcbcb"/><stop offset="0.224" stop-color="#cacaca"/><stop offset="0.256" stop-color="#c8c8c8"/><stop offset="0.288" stop-color="#c1c1c1"/><stop offset="0.321" stop-color="#b0b0b0"/><stop offset="0.353" stop-color="#8d8d8d"/><stop offset="0.385" stop-color="#5b5b5b"/><stop offset="0.417" stop-color="#272727"/><stop offset="0.449" stop-color="#0b0b0b"/><stop offset="0.481" stop-color="#171717"/><stop offset="0.513" stop-color="#444444"/><stop offset="0.545" stop-color="#787878"/><stop offset="0.577" stop-color="#9b9b9b"/><stop offset="0.609" stop-color="#a4a4a4"/><stop offset="0.641" stop-color="#979797"/><stop offset="0.673" stop-color="#848484"/><stop offset="0.705" stop-color="#7b7b7b"/><stop offset="0.737" stop-color="#848484"/><stop offset="0.769" stop-color="#9a9a9a"/><stop offset="0.801" stop-color="#afafaf"/><stop offset="0.833" stop-color="#bcbcbc"/><stop offset="0.865" stop-color="#c2c2c2"/><stop offset="0.897" stop-color="#c3c3c3"/><stop offset="0.994" stop-color="#c3c3c3"/></linearGradient><linearGradient id="p93" x1="0" y1="0" x2="0" y2="1"><stop offset="0.000" stop-color="#cdcdcd"/><stop offset="0.160" stop-color="#cbcbcb"/><stop offset="0.224" stop-color="#cacaca"/><stop offset="0.256" stop-color="#c8c8c8"/><stop offset="0.288" stop-color="#c1c1c1"/><stop offset="0.321" stop-color="#b0b0b0"/><stop offset="0.353" stop-color="#8f8f8f"/><stop offset="0.385" stop-color="#5e5e5e"/><stop offset="0.417" stop-color="#2c2c2c"/><stop offset="0.449" stop-color="#111111"/><stop offset="0.481" stop-color="#1d1d1d"/><stop offset="0.513" stop-color="#484848"/><stop offset="0.545" stop-color="#7a7a7a"/><stop offset="0.577" stop-color="#9c9c9c"/><stop offset="0.609" stop-color="#a4a4a4"/><stop offset="0.641" stop-color="#979797"/><stop offset="0.673" stop-color="#848484"/><stop offset="0.705" stop-color="#7b7b7b"/><stop offset="0.737" stop-color="#848484"/><stop offset="0.769" stop-color="#9a9a9a"/><stop offset="0.801" stop-color="#afafaf"/><stop offset="0.833" stop-color="#bcbcbc"/><stop offset="0.865" stop-color="#c2c2c2"/><stop offset="0.897" stop-color="#c3c3c3"/><stop offset="0.994" stop-color="#c3c3c3"/></linearGradient><linearGradient id="p94" x1="0" y1="0" x2="0" y2="1"><stop offset="0.000" stop-color="#cdcdcd"/><stop offset="0.160" stop-color="#cbcbcb"/><stop offset="0.224" stop-color="#cacaca"/><stop offset="0.256" stop-color="#c9c9c9"/><stop offset="0.288" stop-color="#c5c5c5"/><stop offset="0.321" stop-color="#bababa"/><stop offset="0.353" stop-color="#a5a5a5"/><stop offset="0.385" stop-color="#868686"/><stop offset="0.417" stop-color="#666666"/><stop offset="0.449" stop-color="#555555"/><stop offset="0.481" stop-color="#5c5c5c"/><stop offset="0.513" stop-color="#777777"/><stop offset="0.545" stop-color="#969696"/><stop offset="0.577" stop-color="#a9a9a9"/><stop offset="0.609" stop-color="#a9a9a9"/><stop offset="0.641" stop-color="#989898"/><stop offset="0.673" stop-color="#848484"/><stop offset="0.705" stop-color="#7b7b7b"/><stop offset="0.737" stop-color="#848484"/><stop offset="0.769" stop-color="#9a9a9a"/><stop offset="0.801" stop-color="#afafaf"/><stop offset="0.833" stop-color="#bcbcbc"/><stop offset="0.865" stop-color="#c2c2c2"/><stop offset="0.897" stop-color="#c3c3c3"/><stop offset="0.994" stop-color="#c3c3c3"/></linearGradient><linearGradient id="p95" x1="0" y1="0" x2="0" y2="1"><stop offset="0.000" stop-color="#cdcdcd"/><stop offset="0.160" stop-color="#cbcbcb"/><stop offset="0.256" stop-color="#c9c9c9"/><stop offset="0.288" stop-color="#c5c5c5"/><stop offset="0.321" stop-color="#bbbbbb"/><stop offset="0.353" stop-color="#a9a9a9"/><stop offset="0.385" stop-color="#8d8d8d"/><stop offset="0.417" stop-color="#707070"/><stop offset="0.449" stop-color="#616161"/><stop offset="0.481" stop-color="#676767"/><stop offset="0.513" stop-color="#7f7f7f"/><stop offset="0.545" stop-color="#9b9b9b"/><stop offset="0.577" stop-color="#ababab"/><stop offset="0.609" stop-color="#aaaaaa"/><stop offset="0.641" stop-color="#999999"/><stop offset="0.673" stop-color="#848484"/><stop offset="0.705" stop-color="#7b7b7b"/><stop offset="0.737" stop-color="#848484"/><stop offset="0.769" stop-color="#9a9a9a"/><stop offset="0.801" stop-color="#afafaf"/><stop offset="0.833" stop-color="#bcbcbc"/><stop offset="0.865" stop-color="#c2c2c2"/><stop offset="0.897" stop-color="#c3c3c3"/><stop offset="0.994" stop-color="#c3c3c3"/></linearGradient><linearGradient id="p96" x1="0" y1="0" x2="0" y2="1"><stop offset="0.000" stop-color="#d4d4d4"/><stop offset="0.029" stop-color="#d3d3d3"/><stop offset="0.058" stop-color="#d1d1d1"/><stop offset="0.087" stop-color="#cccccc"/><stop offset="0.116" stop-color="#c4c4c4"/><stop offset="0.145" stop-color="#b5b5b5"/><stop offset="0.173" stop-color="#9d9d9d"/><stop offset="0.202" stop-color="#7d7d7d"/><stop offset="0.231" stop-color="#575757"/><stop offset="0.260" stop-color="#313131"/><stop offset="0.289" stop-color="#131313"/><stop offset="0.318" stop-color="#050505"/><stop offset="0.347" stop-color="#0b0b0b"/><stop offset="0.376" stop-color="#232323"/><stop offset="0.405" stop-color="#464646"/><stop offset="0.434" stop-color="#6c6c6c"/><stop offset="0.462" stop-color="#878787"/><stop offset="0.491" stop-color="#8f8f8f"/><stop offset="0.520" stop-color="#7c7c7c"/><stop offset="0.549" stop-color="#555555"/><stop offset="0.578" stop-color="#303030"/><stop offset="0.607" stop-color="#262626"/><stop offset="0.636" stop-color="#3f3f3f"/><stop offset="0.665" stop-color="#6c6c6c"/><stop offset="0.694" stop-color="#999999"/><stop offset="0.723" stop-color="#b7b7b7"/><stop offset="0.751" stop-color="#c6c6c6"/><stop offset="0.780" stop-color="#cccccc"/><stop offset="0.838" stop-color="#cdcdcd"/><stop offset="1.012" stop-color="#cccccc"/></linearGradient><linearGradient id="p97" x1="0" y1="0" x2="0" y2="1"><stop offset="0.000" stop-color="#d4d4d4"/><stop offset="0.029" stop-color="#d3d3d3"/><stop offset="0.058" stop-color="#d1d1d1"/><stop offset="0.087" stop-color="#cccccc"/><stop offset="0.116" stop-color="#c4c4c4"/><stop offset="0.145" stop-color="#b5b5b5"/><stop offset="0.173" stop-color="#9d9d9d"/><stop offset="0.202" stop-color="#7d7d7d"/><stop offset="0.231" stop-color="#575757"/><stop offset="0.260" stop-color="#313131"/><stop offset="0.289" stop-color="#131313"/><stop offset="0.318" stop-color="#050505"/><stop offset="0.347" stop-color="#0b0b0b"/><stop offset="0.376" stop-color="#232323"/><stop offset="0.405" stop-color="#464646"/><stop offset="0.434" stop-color="#6c6c6c"/><stop offset="0.462" stop-color="#878787"/><stop offset="0.491" stop-color="#8f8f8f"/><stop offset="0.520" stop-color="#7c7c7c"/><stop offset="0.549" stop-color="#555555"/><stop offset="0.578" stop-color="#303030"/><stop offset="0.607" stop-color="#262626"/><stop offset="0.636" stop-color="#3f3f3f"/><stop offset="0.665" stop-color="#6c6c6c"/><stop offset="0.694" stop-color="#999999"/><stop offset="0.723" stop-color="#b7b7b7"/><stop offset="0.751" stop-color="#c6c6c6"/><stop offset="0.780" stop-color="#cccccc"/><stop offset="0.838" stop-color="#cdcdcd"/><stop offset="1.012" stop-color="#cccccc"/></linearGradient><linearGradient id="p98" x1="0" y1="0" x2="0" y2="1"><stop offset="0.000" stop-color="#d4d4d4"/><stop offset="0.029" stop-color="#d3d3d3"/><stop offset="0.058" stop-color="#d1d1d1"/><stop offset="0.087" stop-color="#cccccc"/><stop offset="0.116" stop-color="#c4c4c4"/><stop offset="0.145" stop-color="#b5b5b5"/><stop offset="0.173" stop-color="#9d9d9d"/><stop offset="0.202" stop-color="#7d7d7d"/><stop offset="0.231" stop-color="#575757"/><stop offset="0.260" stop-color="#313131"/><stop offset="0.289" stop-color="#131313"/><stop offset="0.318" stop-color="#050505"/><stop offset="0.347" stop-color="#0b0b0b"/><stop offset="0.376" stop-color="#232323"/><stop offset="0.405" stop-color="#464646"/><stop offset="0.434" stop-color="#6c6c6c"/><stop offset="0.462" stop-color="#878787"/><stop offset="0.491" stop-color="#8f8f8f"/><stop offset="0.520" stop-color="#7c7c7c"/><stop offset="0.549" stop-color="#555555"/><stop offset="0.578" stop-color="#303030"/><stop offset="0.607" stop-color="#262626"/><stop offset="0.636" stop-color="#3f3f3f"/><stop offset="0.665" stop-color="#6c6c6c"/><stop offset="0.694" stop-color="#999999"/><stop offset="0.723" stop-color="#b7b7b7"/><stop offset="0.751" stop-color="#c6c6c6"/><stop offset="0.780" stop-color="#cccccc"/><stop offset="0.838" stop-color="#cdcdcd"/><stop offset="1.012" stop-color="#cccccc"/></linearGradient><linearGradient id="p99" x1="0" y1="0" x2="0" y2="1"><stop offset="0.000" stop-color="#d4d4d4"/><stop offset="0.029" stop-color="#d3d3d3"/><stop offset="0.058" stop-color="#d1d1d1"/><stop offset="0.087" stop-color="#cccccc"/><stop offset="0.116" stop-color="#c4c4c4"/><stop offset="0.145" stop-color="#b5b5b5"/><stop offset="0.173" stop-color="#9d9d9d"/><stop offset="0.202" stop-color="#7d7d7d"/><stop offset="0.231" stop-color="#575757"/><stop offset="0.260" stop-color="#313131"/><stop offset="0.289" stop-color="#131313"/><stop offset="0.318" stop-color="#050505"/><stop offset="0.347" stop-color="#0b0b0b"/><stop offset="0.376" stop-color="#232323"/><stop offset="0.405" stop-color="#464646"/><stop offset="0.434" stop-color="#6c6c6c"/><stop offset="0.462" stop-color="#878787"/><stop offset="0.491" stop-color="#8f8f8f"/><stop offset="0.520" stop-color="#7c7c7c"/><stop offset="0.549" stop-color="#555555"/><stop offset="0.578" stop-color="#303030"/><stop offset="0.607" stop-color="#262626"/><stop offset="0.636" stop-color="#3f3f3f"/><stop offset="0.665" stop-color="#6c6c6c"/><stop offset="0.694" stop-color="#999999"/><stop offset="0.723" stop-color="#b7b7b7"/><stop offset="0.751" stop-color="#c6c6c6"/><stop offset="0.780" stop-color="#cccccc"/><stop offset="0.838" stop-color="#cdcdcd"/><stop offset="1.012" stop-color="#cccccc"/></linearGradient><linearGradient id="p100" x1="0" y1="0" x2="0" y2="1"><stop offset="0.000" stop-color="#d4d4d4"/><stop offset="0.029" stop-color="#d3d3d3"/><stop offset="0.058" stop-color="#d1d1d1"/><stop offset="0.087" stop-color="#cccccc"/><stop offset="0.116" stop-color="#c4c4c4"/><stop offset="0.145" stop-color="#b5b5b5"/><stop offset="0.173" stop-color="#9d9d9d"/><stop offset="0.202" stop-color="#7d7d7d"/><stop offset="0.231" stop-color="#575757"/><stop offset="0.260" stop-color="#313131"/><stop offset="0.289" stop-color="#131313"/><stop offset="0.318" stop-color="#050505"/><stop offset="0.347" stop-color="#0b0b0b"/><stop offset="0.376" stop-color="#232323"/><stop offset="0.405" stop-color="#464646"/><stop offset="0.434" stop-color="#6c6c6c"/><stop offset="0.462" stop-color="#878787"/><stop offset="0.491" stop-color="#8f8f8f"/><stop offset="0.520" stop-color="#7c7c7c"/><stop offset="0.549" stop-color="#555555"/><stop offset="0.578" stop-color="#303030"/><stop offset="0.607" stop-color="#262626"/><stop offset="0.636" stop-color="#3f3f3f"/><stop offset="0.665" stop-color="#6c6c6c"/><stop offset="0.694" stop-color="#999999"/><stop offset="0.723" stop-color="#b7b7b7"/><stop offset="0.751" stop-color="#c6c6c6"/><stop offset="0.780" stop-color="#cccccc"/><stop offset="0.838" stop-color="#cdcdcd"/><stop offset="1.012" stop-color="#cccccc"/></linearGradient></defs>
<rect x="44.3" y="190.6" width="82.90" height="15.00" fill="#c6c6c6" filter="url(#bl1)"/>
<rect x="44.70" y="190.6" width="14.20" height="15.00" fill="url(#p1)" filter="url(#bl2)"/>
<rect x="61.30" y="190.6" width="13.80" height="15.00" fill="url(#p2)" filter="url(#bl2)"/>
<rect x="77.90" y="190.6" width="13.80" height="15.00" fill="url(#p3)" filter="url(#bl2)"/>
<rect x="94.80" y="190.6" width="14.30" height="15.00" fill="url(#p4)" filter="url(#bl2)"/>
<rect x="111.90" y="190.6" width="14.40" height="15.00" fill="url(#p5)" filter="url(#bl2)"/>
<rect x="44.3" y="210.3" width="82.90" height="14.70" fill="#d6d6d6" filter="url(#bl1)"/>
<rect x="46.20" y="210.3" width="14.20" height="14.70" fill="url(#p6)" filter="url(#bl2)"/>
<rect x="62.80" y="210.3" width="13.80" height="14.70" fill="url(#p7)" filter="url(#bl2)"/>
<rect x="79.40" y="210.3" width="13.80" height="14.70" fill="url(#p8)" filter="url(#bl2)"/>
<rect x="96.30" y="210.3" width="14.30" height="14.70" fill="url(#p9)" filter="url(#bl2)"/>
<rect x="113.40" y="210.3" width="14.40" height="14.70" fill="url(#p10)" filter="url(#bl2)"/>
<rect x="44.3" y="227.6" width="82.90" height="16.00" fill="#d4d4d4" filter="url(#bl1)"/>
<rect x="47.20" y="227.6" width="14.20" height="16.00" fill="url(#p11)" filter="url(#bl2)"/>
<rect x="63.80" y="227.6" width="13.80" height="16.00" fill="url(#p12)" filter="url(#bl2)"/>
<rect x="80.40" y="227.6" width="13.80" height="16.00" fill="url(#p13)" filter="url(#bl2)"/>
<rect x="97.30" y="227.6" width="14.30" height="16.00" fill="url(#p14)" filter="url(#bl2)"/>
<rect x="114.40" y="227.6" width="14.40" height="16.00" fill="url(#p15)" filter="url(#bl2)"/>
<rect x="44.3" y="246.8" width="82.90" height="15.70" fill="#dadada" filter="url(#bl1)"/>
<rect x="46.70" y="246.8" width="14.20" height="15.70" fill="url(#p16)" filter="url(#bl2)"/>
<rect x="63.30" y="246.8" width="13.80" height="15.70" fill="url(#p17)" filter="url(#bl2)"/>
<rect x="79.90" y="246.8" width="13.80" height="15.70" fill="url(#p18)" filter="url(#bl2)"/>
<rect x="96.80" y="246.8" width="14.30" height="15.70" fill="url(#p19)" filter="url(#bl2)"/>
<rect x="113.90" y="246.8" width="14.40" height="15.70" fill="url(#p20)" filter="url(#bl2)"/>
<rect x="131.2" y="191.0" width="79.20" height="16.60" fill="#f2f2f2" filter="url(#bl1)"/>
<rect x="132.30" y="191.0" width="13.20" height="16.60" fill="url(#p21)" filter="url(#bl2)"/>
<rect x="149.10" y="191.0" width="13.40" height="16.60" fill="url(#p22)" filter="url(#bl2)"/>
<rect x="165.30" y="191.0" width="12.60" height="16.60" fill="url(#p23)" filter="url(#bl2)"/>
<rect x="179.30" y="191.0" width="12.40" height="16.60" fill="url(#p24)" filter="url(#bl2)"/>
<rect x="192.70" y="191.0" width="16.40" height="16.60" fill="url(#p25)" filter="url(#bl2)"/>
<rect x="131.2" y="210.0" width="79.20" height="14.40" fill="#f2f2f2" filter="url(#bl1)"/>
<rect x="132.30" y="210.0" width="13.20" height="14.40" fill="url(#p26)" filter="url(#bl2)"/>
<rect x="149.10" y="210.0" width="13.40" height="14.40" fill="url(#p27)" filter="url(#bl2)"/>
<rect x="165.30" y="210.0" width="12.60" height="14.40" fill="url(#p28)" filter="url(#bl2)"/>
<rect x="179.30" y="210.0" width="12.40" height="14.40" fill="url(#p29)" filter="url(#bl2)"/>
<rect x="192.70" y="210.0" width="16.40" height="14.40" fill="url(#p30)" filter="url(#bl2)"/>
<rect x="131.2" y="227.3" width="79.20" height="16.00" fill="#f2f2f2" filter="url(#bl1)"/>
<rect x="132.40" y="227.3" width="13.30" height="16.00" fill="url(#p31)" filter="url(#bl2)"/>
<rect x="148.70" y="227.3" width="13.40" height="16.00" fill="url(#p32)" filter="url(#bl2)"/>
<rect x="164.90" y="227.3" width="12.80" height="16.00" fill="url(#p33)" filter="url(#bl2)"/>
<rect x="180.50" y="227.3" width="13.00" height="16.00" fill="url(#p34)" filter="url(#bl2)"/>
<rect x="196.00" y="227.3" width="13.90" height="16.00" fill="url(#p35)" filter="url(#bl2)"/>
<rect x="131.2" y="247.2" width="79.20" height="15.30" fill="#f2f2f2" filter="url(#bl1)"/>
<rect x="132.40" y="247.2" width="13.30" height="15.30" fill="url(#p36)" filter="url(#bl2)"/>
<rect x="148.70" y="247.2" width="13.40" height="15.30" fill="url(#p37)" filter="url(#bl2)"/>
<rect x="164.90" y="247.2" width="12.80" height="15.30" fill="url(#p38)" filter="url(#bl2)"/>
<rect x="180.50" y="247.2" width="13.00" height="15.30" fill="url(#p39)" filter="url(#bl2)"/>
<rect x="196.00" y="247.2" width="13.90" height="15.30" fill="url(#p40)" filter="url(#bl2)"/>
<rect x="212.6" y="190.5" width="81.60" height="16.50" fill="#d2d2d2" filter="url(#bl1)"/>
<rect x="213.30" y="190.5" width="13.00" height="16.50" fill="url(#p41)" filter="url(#bl2)"/>
<rect x="229.90" y="190.5" width="13.80" height="16.50" fill="url(#p42)" filter="url(#bl2)"/>
<rect x="246.70" y="190.5" width="13.40" height="16.50" fill="url(#p43)" filter="url(#bl2)"/>
<rect x="264.10" y="190.5" width="14.20" height="16.50" fill="url(#p44)" filter="url(#bl2)"/>
<rect x="280.70" y="190.5" width="13.20" height="16.50" fill="url(#p45)" filter="url(#bl2)"/>
<rect x="212.6" y="211.0" width="81.60" height="13.20" fill="#e4e4e4" filter="url(#bl1)"/>
<rect x="213.30" y="211.0" width="13.00" height="13.20" fill="url(#p46)" filter="url(#bl2)"/>
<rect x="229.90" y="211.0" width="13.80" height="13.20" fill="url(#p47)" filter="url(#bl2)"/>
<rect x="246.70" y="211.0" width="13.40" height="13.20" fill="url(#p48)" filter="url(#bl2)"/>
<rect x="264.10" y="211.0" width="14.20" height="13.20" fill="url(#p49)" filter="url(#bl2)"/>
<rect x="280.70" y="211.0" width="13.20" height="13.20" fill="url(#p50)" filter="url(#bl2)"/>
<rect x="212.6" y="226.8" width="81.60" height="15.20" fill="#e0e0e0" filter="url(#bl1)"/>
<rect x="214.10" y="226.8" width="13.00" height="15.20" fill="url(#p51)" filter="url(#bl2)"/>
<rect x="230.70" y="226.8" width="13.80" height="15.20" fill="url(#p52)" filter="url(#bl2)"/>
<rect x="247.50" y="226.8" width="13.40" height="15.20" fill="url(#p53)" filter="url(#bl2)"/>
<rect x="264.90" y="226.8" width="14.20" height="15.20" fill="url(#p54)" filter="url(#bl2)"/>
<rect x="281.50" y="226.8" width="13.20" height="15.20" fill="url(#p55)" filter="url(#bl2)"/>
<rect x="212.6" y="247.4" width="81.60" height="15.10" fill="#e4e4e4" filter="url(#bl1)"/>
<rect x="213.80" y="247.4" width="13.00" height="15.10" fill="url(#p56)" filter="url(#bl2)"/>
<rect x="230.40" y="247.4" width="13.80" height="15.10" fill="url(#p57)" filter="url(#bl2)"/>
<rect x="247.20" y="247.4" width="13.40" height="15.10" fill="url(#p58)" filter="url(#bl2)"/>
<rect x="264.60" y="247.4" width="14.20" height="15.10" fill="url(#p59)" filter="url(#bl2)"/>
<rect x="281.20" y="247.4" width="13.20" height="15.10" fill="url(#p60)" filter="url(#bl2)"/>
<rect x="356.6" y="191.2" width="80.80" height="14.40" fill="#d7d7d7" filter="url(#bl1)"/>
<rect x="357.60" y="191.2" width="13.50" height="14.40" fill="url(#p61)" filter="url(#bl2)"/>
<rect x="373.30" y="191.2" width="13.90" height="14.40" fill="url(#p62)" filter="url(#bl2)"/>
<rect x="389.10" y="191.2" width="14.20" height="14.40" fill="url(#p63)" filter="url(#bl2)"/>
<rect x="405.60" y="191.2" width="14.20" height="14.40" fill="url(#p64)" filter="url(#bl2)"/>
<rect x="421.60" y="191.2" width="14.80" height="14.40" fill="url(#p65)" filter="url(#bl2)"/>
<rect x="356.6" y="210.8" width="80.80" height="13.60" fill="#dedede" filter="url(#bl1)"/>
<rect x="357.60" y="210.8" width="13.50" height="13.60" fill="url(#p66)" filter="url(#bl2)"/>
<rect x="373.30" y="210.8" width="13.90" height="13.60" fill="url(#p67)" filter="url(#bl2)"/>
<rect x="389.10" y="210.8" width="14.20" height="13.60" fill="url(#p68)" filter="url(#bl2)"/>
<rect x="405.60" y="210.8" width="14.20" height="13.60" fill="url(#p69)" filter="url(#bl2)"/>
<rect x="421.60" y="210.8" width="14.80" height="13.60" fill="url(#p70)" filter="url(#bl2)"/>
<rect x="356.6" y="227.3" width="80.80" height="16.10" fill="#e0e0e0" filter="url(#bl1)"/>
<rect x="357.60" y="227.3" width="13.50" height="16.10" fill="url(#p71)" filter="url(#bl2)"/>
<rect x="373.30" y="227.3" width="13.90" height="16.10" fill="url(#p72)" filter="url(#bl2)"/>
<rect x="389.10" y="227.3" width="14.20" height="16.10" fill="url(#p73)" filter="url(#bl2)"/>
<rect x="405.60" y="227.3" width="14.20" height="16.10" fill="url(#p74)" filter="url(#bl2)"/>
<rect x="421.60" y="227.3" width="14.80" height="16.10" fill="url(#p75)" filter="url(#bl2)"/>
<rect x="356.6" y="246.8" width="80.80" height="15.70" fill="#e2e2e2" filter="url(#bl1)"/>
<rect x="357.60" y="246.8" width="13.50" height="15.70" fill="url(#p76)" filter="url(#bl2)"/>
<rect x="373.30" y="246.8" width="13.90" height="15.70" fill="url(#p77)" filter="url(#bl2)"/>
<rect x="389.10" y="246.8" width="14.20" height="15.70" fill="url(#p78)" filter="url(#bl2)"/>
<rect x="405.60" y="246.8" width="14.20" height="15.70" fill="url(#p79)" filter="url(#bl2)"/>
<rect x="421.60" y="246.8" width="14.80" height="15.70" fill="url(#p80)" filter="url(#bl2)"/>
<rect x="441.0" y="191.2" width="76.20" height="14.60" fill="#b2b2b2" filter="url(#bl1)"/>
<rect x="443.50" y="191.2" width="14.20" height="14.60" fill="url(#p81)" filter="url(#bl2)"/>
<rect x="459.70" y="191.2" width="13.20" height="14.60" fill="url(#p82)" filter="url(#bl2)"/>
<rect x="475.00" y="191.2" width="13.10" height="14.60" fill="url(#p83)" filter="url(#bl2)"/>
<rect x="490.10" y="191.2" width="12.40" height="14.60" fill="url(#p84)" filter="url(#bl2)"/>
<rect x="504.50" y="191.2" width="12.60" height="14.60" fill="url(#p85)" filter="url(#bl2)"/>
<rect x="441.0" y="211.0" width="76.20" height="12.40" fill="#eeeeee" filter="url(#bl1)"/>
<rect x="443.50" y="211.0" width="14.20" height="12.40" fill="url(#p86)" filter="url(#bl2)"/>
<rect x="459.70" y="211.0" width="13.20" height="12.40" fill="url(#p87)" filter="url(#bl2)"/>
<rect x="475.00" y="211.0" width="13.10" height="12.40" fill="url(#p88)" filter="url(#bl2)"/>
<rect x="490.10" y="211.0" width="12.40" height="12.40" fill="url(#p89)" filter="url(#bl2)"/>
<rect x="504.50" y="211.0" width="12.60" height="12.40" fill="url(#p90)" filter="url(#bl2)"/>
<rect x="441.0" y="226.6" width="76.20" height="15.60" fill="#ececec" filter="url(#bl1)"/>
<rect x="443.50" y="226.6" width="14.20" height="15.60" fill="url(#p91)" filter="url(#bl2)"/>
<rect x="459.70" y="226.6" width="13.20" height="15.60" fill="url(#p92)" filter="url(#bl2)"/>
<rect x="475.00" y="226.6" width="13.10" height="15.60" fill="url(#p93)" filter="url(#bl2)"/>
<rect x="490.10" y="226.6" width="12.40" height="15.60" fill="url(#p94)" filter="url(#bl2)"/>
<rect x="504.50" y="226.6" width="12.60" height="15.60" fill="url(#p95)" filter="url(#bl2)"/>
<rect x="441.0" y="245.2" width="76.20" height="17.30" fill="#eeeeee" filter="url(#bl1)"/>
<rect x="443.50" y="245.2" width="14.20" height="17.30" fill="url(#p96)" filter="url(#bl2)"/>
<rect x="459.70" y="245.2" width="13.20" height="17.30" fill="url(#p97)" filter="url(#bl2)"/>
<rect x="475.00" y="245.2" width="13.10" height="17.30" fill="url(#p98)" filter="url(#bl2)"/>
<rect x="490.10" y="245.2" width="12.40" height="17.30" fill="url(#p99)" filter="url(#bl2)"/>
<rect x="504.50" y="245.2" width="12.60" height="17.30" fill="url(#p100)" filter="url(#bl2)"/>
<text x="0.0" y="8.7" font-size="12" text-anchor="start" font-weight="bold" >A</text>
<line x1="44.2" y1="2.4" x2="44.2" y2="97.8" stroke="#000" stroke-width="1.4"/>
<line x1="41.6" y1="97.20" x2="44.2" y2="97.20" stroke="#111" stroke-width="1"/>
<text x="41.9" y="99.10" font-size="7" text-anchor="end" >0</text>
<line x1="41.6" y1="65.70" x2="44.2" y2="65.70" stroke="#111" stroke-width="1"/>
<text x="41.9" y="67.60" font-size="7" text-anchor="end" >20</text>
<line x1="41.6" y1="34.20" x2="44.2" y2="34.20" stroke="#111" stroke-width="1"/>
<text x="41.9" y="36.10" font-size="7" text-anchor="end" >40</text>
<line x1="41.6" y1="2.70" x2="44.2" y2="2.70" stroke="#111" stroke-width="1"/>
<text x="41.9" y="4.60" font-size="7" text-anchor="end" >60</text>
<rect x="51.3" y="45.23" width="33.2" height="51.98" fill="#0a0aff"/>
<rect x="51.3" y="54.68" width="33.2" height="42.52" fill="#360a85"/>
<rect x="51.3" y="76.73" width="33.2" height="20.47" fill="#66ccff"/>
<rect x="98.3" y="91.69" width="33.2" height="5.51" fill="#6b6bf5"/>
<rect x="145.5" y="71.53" width="33.30000000000001" height="25.67" fill="#8a8520"/>
<rect x="145.5" y="80.66" width="33.30000000000001" height="16.54" fill="#0a820a"/>
<line x1="43.6" y1="97.2" x2="186" y2="97.2" stroke="#000" stroke-width="1.4"/>
<line x1="67.8" y1="97.2" x2="67.8" y2="99.5" stroke="#111" stroke-width="1"/>
<text x="69.7" y="103.6" font-size="8" text-anchor="end" transform="rotate(-45 69.7 103.6)">D835</text>
<line x1="115" y1="97.2" x2="115" y2="99.5" stroke="#111" stroke-width="1"/>
<text x="116.9" y="103.6" font-size="8" text-anchor="end" transform="rotate(-45 116.9 103.6)">D839</text>
<line x1="162.2" y1="97.2" x2="162.2" y2="99.5" stroke="#111" stroke-width="1"/>
<text x="164.1" y="103.6" font-size="8" text-anchor="end" transform="rotate(-45 164.1 103.6)">Y842</text>
<text x="68" y="129.6" font-size="7.6" text-anchor="start" >Mutated amino acid residue</text>
<text x="26.3" y="48" font-size="7.5" text-anchor="middle" transform="rotate(-90 26.3 48)">Number of Clones Isolated</text>
<rect x="188" y="20.10" width="6.8" height="9" fill="#66ccff"/>
<text x="197.2" y="27.40" font-size="7.9" text-anchor="start" style="stroke-width:0.5px">D835H</text>
<rect x="188" y="30.25" width="6.8" height="9" fill="#360a85"/>
<text x="197.2" y="37.55" font-size="7.9" text-anchor="start" style="stroke-width:0.5px">D835V</text>
<rect x="188" y="40.40" width="6.8" height="9" fill="#0a0aff"/>
<text x="197.2" y="47.70" font-size="7.9" text-anchor="start" style="stroke-width:0.5px">D835Y</text>
<rect x="188" y="50.55" width="6.8" height="9" fill="#6b6bf5"/>
<text x="197.2" y="57.85" font-size="7.9" text-anchor="start" style="stroke-width:0.5px">D839G</text>
<rect x="188" y="60.70" width="6.8" height="9" fill="#0a820a"/>
<text x="197.2" y="68.00" font-size="7.9" text-anchor="start" style="stroke-width:0.5px">Y842C</text>
<rect x="188" y="70.85" width="6.8" height="9" fill="#8a8520"/>
<text x="197.2" y="78.15" font-size="7.9" text-anchor="start" style="stroke-width:0.5px">Y842H</text>
<text x="243.4" y="8.7" font-size="12" text-anchor="start" font-weight="bold" >B</text>
<line x1="292.6" y1="12.9" x2="292.6" y2="103.2" stroke="#000" stroke-width="1.4"/>
<line x1="289.8" y1="102.20" x2="292.6" y2="102.20" stroke="#111" stroke-width="1"/>
<text x="289.9" y="103.90" font-size="6.5" text-anchor="end" >0.0</text>
<line x1="289.8" y1="72.63" x2="292.6" y2="72.63" stroke="#111" stroke-width="1"/>
<text x="289.9" y="74.33" font-size="6.5" text-anchor="end" >0.5</text>
<line x1="289.8" y1="43.07" x2="292.6" y2="43.07" stroke="#111" stroke-width="1"/>
<text x="289.9" y="44.77" font-size="6.5" text-anchor="end" >1.0</text>
<line x1="289.8" y1="13.50" x2="292.6" y2="13.50" stroke="#111" stroke-width="1"/>
<text x="289.9" y="15.20" font-size="6.5" text-anchor="end" >1.5</text>
<text x="270.6" y="55.8" font-size="7.55" text-anchor="middle" transform="rotate(-90 270.6 55.8)">Relative Proliferation at 48 Hours</text>
<line x1="292.0" y1="102.9" x2="319.0" y2="102.9" stroke="#000" stroke-width="1.5"/>
<line x1="322.2" y1="102.9" x2="428.3" y2="102.9" stroke="#000" stroke-width="1.5"/>
<line x1="318.9" y1="102.2" x2="318.9" y2="105.10000000000001" stroke="#111" stroke-width="0.9"/>
<line x1="322.4" y1="101.9" x2="322.4" y2="104.7" stroke="#111" stroke-width="0.9"/>
<line x1="322.65" y1="102.9" x2="322.65" y2="105.5" stroke="#111" stroke-width="0.8"/>
<line x1="330.55" y1="102.9" x2="330.55" y2="104.4" stroke="#111" stroke-width="0.8"/>
<line x1="335.17" y1="102.9" x2="335.17" y2="104.4" stroke="#111" stroke-width="0.8"/>
<line x1="338.45" y1="102.9" x2="338.45" y2="104.4" stroke="#111" stroke-width="0.8"/>
<line x1="341.00" y1="102.9" x2="341.00" y2="104.4" stroke="#111" stroke-width="0.8"/>
<line x1="343.08" y1="102.9" x2="343.08" y2="104.4" stroke="#111" stroke-width="0.8"/>
<line x1="344.83" y1="102.9" x2="344.83" y2="104.4" stroke="#111" stroke-width="0.8"/>
<line x1="346.36" y1="102.9" x2="346.36" y2="104.4" stroke="#111" stroke-width="0.8"/>
<line x1="347.70" y1="102.9" x2="347.70" y2="104.4" stroke="#111" stroke-width="0.8"/>
<line x1="348.90" y1="102.9" x2="348.90" y2="105.5" stroke="#111" stroke-width="0.8"/>
<line x1="356.80" y1="102.9" x2="356.80" y2="104.4" stroke="#111" stroke-width="0.8"/>
<line x1="361.42" y1="102.9" x2="361.42" y2="104.4" stroke="#111" stroke-width="0.8"/>
<line x1="364.70" y1="102.9" x2="364.70" y2="104.4" stroke="#111" stroke-width="0.8"/>
<line x1="367.25" y1="102.9" x2="367.25" y2="104.4" stroke="#111" stroke-width="0.8"/>
<line x1="369.33" y1="102.9" x2="369.33" y2="104.4" stroke="#111" stroke-width="0.8"/>
<line x1="371.08" y1="102.9" x2="371.08" y2="104.4" stroke="#111" stroke-width="0.8"/>
<line x1="372.61" y1="102.9" x2="372.61" y2="104.4" stroke="#111" stroke-width="0.8"/>
<line x1="373.95" y1="102.9" x2="373.95" y2="104.4" stroke="#111" stroke-width="0.8"/>
<line x1="375.15" y1="102.9" x2="375.15" y2="105.5" stroke="#111" stroke-width="0.8"/>
<line x1="383.05" y1="102.9" x2="383.05" y2="104.4" stroke="#111" stroke-width="0.8"/>
<line x1="387.67" y1="102.9" x2="387.67" y2="104.4" stroke="#111" stroke-width="0.8"/>
<line x1="390.95" y1="102.9" x2="390.95" y2="104.4" stroke="#111" stroke-width="0.8"/>
<line x1="393.50" y1="102.9" x2="393.50" y2="104.4" stroke="#111" stroke-width="0.8"/>
<line x1="395.58" y1="102.9" x2="395.58" y2="104.4" stroke="#111" stroke-width="0.8"/>
<line x1="397.33" y1="102.9" x2="397.33" y2="104.4" stroke="#111" stroke-width="0.8"/>
<line x1="398.86" y1="102.9" x2="398.86" y2="104.4" stroke="#111" stroke-width="0.8"/>
<line x1="400.20" y1="102.9" x2="400.20" y2="104.4" stroke="#111" stroke-width="0.8"/>
<line x1="401.40" y1="102.9" x2="401.40" y2="105.5" stroke="#111" stroke-width="0.8"/>
<line x1="409.30" y1="102.9" x2="409.30" y2="104.4" stroke="#111" stroke-width="0.8"/>
<line x1="413.92" y1="102.9" x2="413.92" y2="104.4" stroke="#111" stroke-width="0.8"/>
<line x1="417.20" y1="102.9" x2="417.20" y2="104.4" stroke="#111" stroke-width="0.8"/>
<line x1="419.75" y1="102.9" x2="419.75" y2="104.4" stroke="#111" stroke-width="0.8"/>
<line x1="421.83" y1="102.9" x2="421.83" y2="104.4" stroke="#111" stroke-width="0.8"/>
<line x1="423.58" y1="102.9" x2="423.58" y2="104.4" stroke="#111" stroke-width="0.8"/>
<line x1="425.11" y1="102.9" x2="425.11" y2="104.4" stroke="#111" stroke-width="0.8"/>
<line x1="426.45" y1="102.9" x2="426.45" y2="104.4" stroke="#111" stroke-width="0.8"/>
<line x1="300.45" y1="102.9" x2="300.45" y2="104.4" stroke="#111" stroke-width="0.8"/>
<line x1="305.07" y1="102.9" x2="305.07" y2="104.4" stroke="#111" stroke-width="0.8"/>
<line x1="308.35" y1="102.9" x2="308.35" y2="104.4" stroke="#111" stroke-width="0.8"/>
<line x1="310.90" y1="102.9" x2="310.90" y2="104.4" stroke="#111" stroke-width="0.8"/>
<line x1="312.98" y1="102.9" x2="312.98" y2="104.4" stroke="#111" stroke-width="0.8"/>
<line x1="314.73" y1="102.9" x2="314.73" y2="104.4" stroke="#111" stroke-width="0.8"/>
<line x1="316.26" y1="102.9" x2="316.26" y2="104.4" stroke="#111" stroke-width="0.8"/>
<line x1="317.60" y1="102.9" x2="317.60" y2="104.4" stroke="#111" stroke-width="0.8"/>
<line x1="318.6" y1="102.9" x2="318.6" y2="105.5" stroke="#111" stroke-width="0.9"/>
<text x="318.40" y="111.1" font-size="7" text-anchor="middle" >0</text>
<text x="348.90" y="111.1" font-size="7" text-anchor="middle" >1</text>
<text x="375.15" y="111.1" font-size="7" text-anchor="middle" >10</text>
<text x="401.40" y="111.1" font-size="7" text-anchor="middle" >100</text>
<text x="427.65" y="111.1" font-size="7" text-anchor="middle" >1000</text>
<text x="300.5" y="124.6" font-size="9.1" text-anchor="start" >Ponatinib Concentration (nM)</text>
<polyline points="322.65,41.88 348.90,35.38 375.15,38.34 385.60,38.93 393.50,34.20 401.40,30.65 427.65,54.30" fill="none" stroke="#3ad8dc" stroke-width="1.4" stroke-linejoin="round"/>
<circle cx="348.90" cy="35.38" r="1.8" fill="#3ad8dc"/>
<path d="M348.90 38.34V32.42M347.60 38.34h2.6M347.60 32.42h2.6" stroke="#3ad8dc" stroke-width="0.8" fill="none"/>
<circle cx="375.15" cy="38.34" r="1.8" fill="#3ad8dc"/>
<circle cx="385.60" cy="38.93" r="1.8" fill="#3ad8dc"/>
<circle cx="393.50" cy="34.20" r="1.8" fill="#3ad8dc"/>
<circle cx="401.40" cy="30.65" r="1.8" fill="#3ad8dc"/>
<path d="M401.40 36.56V24.74M400.10 36.56h2.6M400.10 24.74h2.6" stroke="#3ad8dc" stroke-width="0.8" fill="none"/>
<circle cx="427.65" cy="54.30" r="1.8" fill="#3ad8dc"/>
<path d="M427.65 56.67V51.94M426.35 56.67h2.6M426.35 51.94h2.6" stroke="#3ad8dc" stroke-width="0.8" fill="none"/>
<circle cx="318.3" cy="41.29" r="1.8" fill="#3ad8dc"/>
<path d="M318.3 44.25V37.15M317 37.15h2.6" stroke="#3ad8dc" stroke-width="0.7" fill="none"/>
<polyline points="322.65,44.84 348.90,48.39 375.15,91.56 385.60,98.06 393.50,100.43 401.40,101.02 427.65,101.02" fill="none" stroke="#d822d8" stroke-width="1.4" stroke-linejoin="round"/>
<circle cx="348.90" cy="48.39" r="1.8" fill="#d822d8"/>
<circle cx="375.15" cy="91.56" r="1.8" fill="#d822d8"/>
<circle cx="385.60" cy="98.06" r="1.8" fill="#d822d8"/>
<circle cx="393.50" cy="100.43" r="1.8" fill="#d822d8"/>
<circle cx="401.40" cy="101.02" r="1.8" fill="#d822d8"/>
<circle cx="427.65" cy="101.02" r="1.8" fill="#d822d8"/>
<circle cx="318.3" cy="44.84" r="1.8" fill="#d822d8"/>
<path d="M318.3 47.80V40.70M317 40.70h2.6" stroke="#d822d8" stroke-width="0.7" fill="none"/>
<polyline points="322.65,44.25 348.90,46.61 375.15,40.70 385.60,43.07 393.50,70.27 401.40,99.24 427.65,100.43" fill="none" stroke="#6060e0" stroke-width="1.4" stroke-linejoin="round"/>
<circle cx="348.90" cy="46.61" r="1.8" fill="#6060e0"/>
<path d="M348.90 48.98V44.25M347.60 48.98h2.6M347.60 44.25h2.6" stroke="#6060e0" stroke-width="0.8" fill="none"/>
<circle cx="375.15" cy="40.70" r="1.8" fill="#6060e0"/>
<circle cx="385.60" cy="43.07" r="1.8" fill="#6060e0"/>
<circle cx="393.50" cy="70.27" r="1.8" fill="#6060e0"/>
<circle cx="401.40" cy="99.24" r="1.8" fill="#6060e0"/>
<circle cx="427.65" cy="100.43" r="1.8" fill="#6060e0"/>
<circle cx="318.3" cy="45.43" r="1.8" fill="#6060e0"/>
<path d="M318.3 48.39V41.29M317 41.29h2.6" stroke="#6060e0" stroke-width="0.7" fill="none"/>
<polyline points="322.65,43.07 348.90,40.11 375.15,38.34 385.60,37.74 393.50,39.52 401.40,56.08 427.65,100.43" fill="none" stroke="#15801a" stroke-width="1.4" stroke-linejoin="round"/>
<circle cx="348.90" cy="40.11" r="1.8" fill="#15801a"/>
<circle cx="375.15" cy="38.34" r="1.8" fill="#15801a"/>
<circle cx="385.60" cy="37.74" r="1.8" fill="#15801a"/>
<circle cx="393.50" cy="39.52" r="1.8" fill="#15801a"/>
<circle cx="401.40" cy="56.08" r="1.8" fill="#15801a"/>
<circle cx="427.65" cy="100.43" r="1.8" fill="#15801a"/>
<circle cx="318.3" cy="43.07" r="1.8" fill="#15801a"/>
<path d="M318.3 46.02V38.93M317 38.93h2.6" stroke="#15801a" stroke-width="0.7" fill="none"/>
<polyline points="322.65,43.07 348.90,41.88 375.15,40.11 385.60,40.11 393.50,43.07 401.40,55.48 427.65,100.43" fill="none" stroke="#6ab8e8" stroke-width="1.4" stroke-linejoin="round"/>
<circle cx="348.90" cy="41.88" r="1.8" fill="#6ab8e8"/>
<circle cx="375.15" cy="40.11" r="1.8" fill="#6ab8e8"/>
<path d="M375.15 43.07V37.15M373.85 43.07h2.6M373.85 37.15h2.6" stroke="#6ab8e8" stroke-width="0.8" fill="none"/>
<circle cx="385.60" cy="40.11" r="1.8" fill="#6ab8e8"/>
<circle cx="393.50" cy="43.07" r="1.8" fill="#6ab8e8"/>
<circle cx="401.40" cy="55.48" r="1.8" fill="#6ab8e8"/>
<circle cx="427.65" cy="100.43" r="1.8" fill="#6ab8e8"/>
<circle cx="318.3" cy="43.07" r="1.8" fill="#6ab8e8"/>
<path d="M318.3 46.02V38.93M317 38.93h2.6" stroke="#6ab8e8" stroke-width="0.7" fill="none"/>
<polyline points="322.65,42.48 348.90,38.34 375.15,34.79 385.60,34.79 393.50,56.67 401.40,87.42 427.65,100.43" fill="none" stroke="#8a8a1e" stroke-width="1.4" stroke-linejoin="round"/>
<circle cx="348.90" cy="38.34" r="1.8" fill="#8a8a1e"/>
<circle cx="375.15" cy="34.79" r="1.8" fill="#8a8a1e"/>
<path d="M375.15 41.88V27.69M373.85 41.88h2.6M373.85 27.69h2.6" stroke="#8a8a1e" stroke-width="0.8" fill="none"/>
<circle cx="385.60" cy="34.79" r="1.8" fill="#8a8a1e"/>
<path d="M385.60 38.34V31.24M384.30 38.34h2.6M384.30 31.24h2.6" stroke="#8a8a1e" stroke-width="0.8" fill="none"/>
<circle cx="393.50" cy="56.67" r="1.8" fill="#8a8a1e"/>
<circle cx="401.40" cy="87.42" r="1.8" fill="#8a8a1e"/>
<circle cx="427.65" cy="100.43" r="1.8" fill="#8a8a1e"/>
<circle cx="318.3" cy="42.48" r="1.8" fill="#8a8a1e"/>
<path d="M318.3 45.43V38.34M317 38.34h2.6" stroke="#8a8a1e" stroke-width="0.7" fill="none"/>
<path d="M318.3 37.15V47.80M317 37.15h2.6" stroke="#6ab8e8" stroke-width="0.8" fill="none"/>
<circle cx="318.3" cy="43.66" r="1.8" fill="#6ab8e8"/>
<circle cx="318.3" cy="45.43" r="1.7" fill="#6060e0"/>
<line x1="440.2" y1="38.50" x2="447.5" y2="38.50" stroke="#3ad8dc" stroke-width="1.5"/>
<ellipse cx="443.8" cy="38.50" rx="2.4" ry="1.9" fill="#3ad8dc"/>
<text x="450.8" y="41.20" font-size="7.5" text-anchor="start" >Parental BaF3 +IL3</text>
<line x1="440.2" y1="48.47" x2="447.5" y2="48.47" stroke="#d822d8" stroke-width="1.5"/>
<ellipse cx="443.8" cy="48.47" rx="2.4" ry="1.9" fill="#d822d8"/>
<text x="450.8" y="51.17" font-size="7.5" text-anchor="start" >ITD</text>
<line x1="440.2" y1="58.44" x2="447.5" y2="58.44" stroke="#6ab8e8" stroke-width="1.5"/>
<ellipse cx="443.8" cy="58.44" rx="2.4" ry="1.9" fill="#6ab8e8"/>
<text x="450.8" y="61.14" font-size="7.5" text-anchor="start" >ITD+D835H</text>
<line x1="440.2" y1="68.41" x2="447.5" y2="68.41" stroke="#6060e0" stroke-width="1.5"/>
<ellipse cx="443.8" cy="68.41" rx="2.4" ry="1.9" fill="#6060e0"/>
<text x="450.8" y="71.11" font-size="7.5" text-anchor="start" >ITD+D839G</text>
<line x1="440.2" y1="78.38" x2="447.5" y2="78.38" stroke="#15801a" stroke-width="1.5"/>
<ellipse cx="443.8" cy="78.38" rx="2.4" ry="1.9" fill="#15801a"/>
<text x="450.8" y="81.08" font-size="7.5" text-anchor="start" >ITD+Y842C</text>
<line x1="440.2" y1="88.35" x2="447.5" y2="88.35" stroke="#8a8a1e" stroke-width="1.5"/>
<ellipse cx="443.8" cy="88.35" rx="2.4" ry="1.9" fill="#8a8a1e"/>
<text x="450.8" y="91.05" font-size="7.5" text-anchor="start" >ITD+Y842H</text>
<text x="-1.0" y="156.2" font-size="12.4" text-anchor="start" font-weight="bold" >C</text>
<text x="86.9" y="153.9" font-size="7.6" text-anchor="middle" >ITD</text>
<text x="53.70" y="188" font-size="7.7" transform="rotate(-90 53.70 188)">0</text>
<text x="71.60" y="188" font-size="7.7" transform="rotate(-90 71.60 188)">1</text>
<text x="88.20" y="188" font-size="7.7" transform="rotate(-90 88.20 188)">10</text>
<text x="105.40" y="188" font-size="7.7" transform="rotate(-90 105.40 188)">100</text>
<text x="122.20" y="188" font-size="7.7" transform="rotate(-90 122.20 188)">500 nM</text>
<text x="170.2" y="153.9" font-size="7.6" text-anchor="middle" >ITD + D835H</text>
<text x="140.80" y="188" font-size="7.7" transform="rotate(-90 140.80 188)">0</text>
<text x="158.00" y="188" font-size="7.7" transform="rotate(-90 158.00 188)">1</text>
<text x="174.70" y="188" font-size="7.7" transform="rotate(-90 174.70 188)">10</text>
<text x="188.50" y="188" font-size="7.7" transform="rotate(-90 188.50 188)">100</text>
<text x="207.20" y="188" font-size="7.7" transform="rotate(-90 207.20 188)">500 nM</text>
<text x="253" y="153.9" font-size="7.6" text-anchor="middle" >ITD + D839G</text>
<text x="221.50" y="188" font-size="7.7" transform="rotate(-90 221.50 188)">0</text>
<text x="238.50" y="188" font-size="7.7" transform="rotate(-90 238.50 188)">1</text>
<text x="256.00" y="188" font-size="7.7" transform="rotate(-90 256.00 188)">10</text>
<text x="272.70" y="188" font-size="7.7" transform="rotate(-90 272.70 188)">100</text>
<text x="293.20" y="188" font-size="7.7" transform="rotate(-90 293.20 188)">500 nM</text>
<text x="396.8" y="153.9" font-size="7.6" text-anchor="middle" >ITD + Y842C</text>
<text x="366.60" y="188" font-size="7.7" transform="rotate(-90 366.60 188)">0</text>
<text x="382.80" y="188" font-size="7.7" transform="rotate(-90 382.80 188)">1</text>
<text x="398.90" y="188" font-size="7.7" transform="rotate(-90 398.90 188)">10</text>
<text x="414.20" y="188" font-size="7.7" transform="rotate(-90 414.20 188)">100</text>
<text x="432.20" y="188" font-size="7.7" transform="rotate(-90 432.20 188)">500 nM</text>
<text x="479.6" y="153.9" font-size="7.6" text-anchor="middle" >ITD + Y842H</text>
<text x="453.00" y="188" font-size="7.7" transform="rotate(-90 453.00 188)">0</text>
<text x="467.70" y="188" font-size="7.7" transform="rotate(-90 467.70 188)">1</text>
<text x="484.20" y="188" font-size="7.7" transform="rotate(-90 484.20 188)">10</text>
<text x="499.70" y="188" font-size="7.7" transform="rotate(-90 499.70 188)">100</text>
<text x="515.20" y="188" font-size="7.7" transform="rotate(-90 515.20 188)">500 nM</text>
<text x="42.0" y="202.0" font-size="7.75" text-anchor="end" >pFLT3</text>
<text x="42.0" y="221.4" font-size="7.75" text-anchor="end" >Total FLT3</text>
<text x="42.0" y="238.0" font-size="7.75" text-anchor="end" >pSTAT5</text>
<text x="42.0" y="255.8" font-size="7.75" text-anchor="end" >Total STAT5</text>
<text x="349.8" y="202.2" font-size="7.75" text-anchor="end" >pFLT3</text>
<text x="349.8" y="220.2" font-size="7.75" text-anchor="end" >Total FLT3</text>
<text x="349.8" y="239.3" font-size="7.75" text-anchor="end" >pSTAT5</text>
<text x="349.8" y="257.3" font-size="7.75" text-anchor="end" >Total STAT5</text>
</svg>
</body></html>
